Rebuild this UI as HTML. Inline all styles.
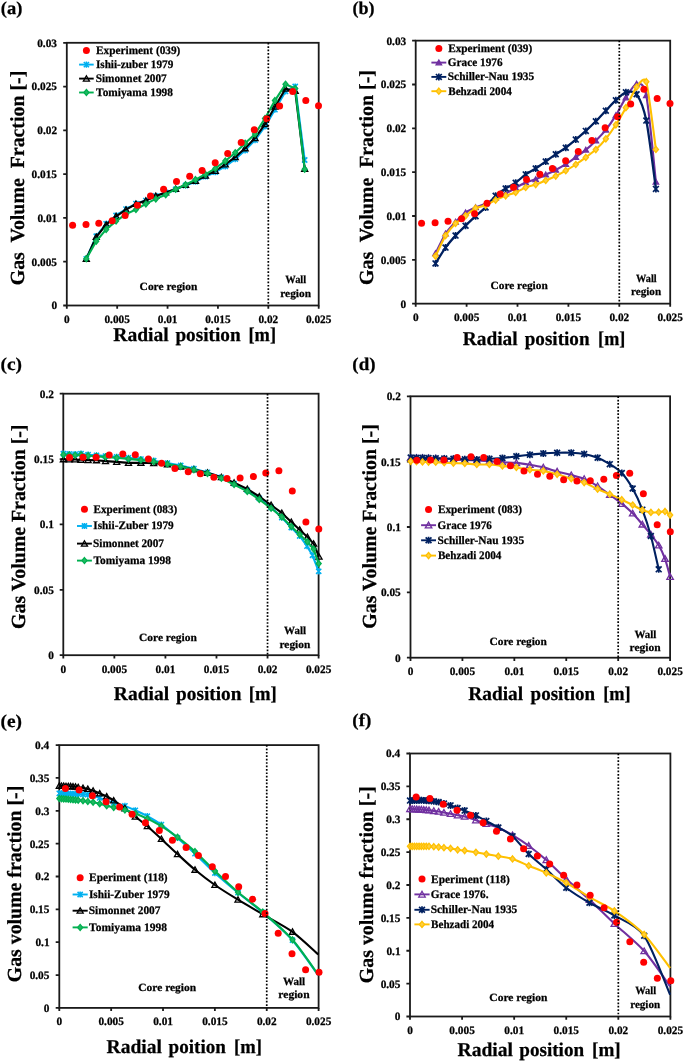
<!DOCTYPE html>
<html><head><meta charset="utf-8"><style>html,body{margin:0;padding:0;background:#fff;overflow:hidden}svg{display:block;will-change:transform}text{white-space:pre;text-rendering:geometricPrecision;stroke:#000;stroke-width:0.25px}</style></head><body>
<svg width="685" height="1062" viewBox="0 0 685 1062" font-family="&quot;Liberation Serif&quot;, serif" font-weight="bold">
<rect width="685" height="1062" fill="#fff"/>
<text x="0.79" y="14.2" font-size="18" textLength="21.53" lengthAdjust="spacingAndGlyphs" fill="#000" >(a)</text>
<text x="352.41" y="14.2" font-size="18" textLength="21.99" lengthAdjust="spacingAndGlyphs" fill="#000" >(b)</text>
<text x="0.55" y="370.29" font-size="18" textLength="21.5" lengthAdjust="spacingAndGlyphs" fill="#000" >(c)</text>
<text x="352.37" y="370.09" font-size="18" textLength="23.17" lengthAdjust="spacingAndGlyphs" fill="#000" >(d)</text>
<text x="0.55" y="726.89" font-size="18" textLength="21.5" lengthAdjust="spacingAndGlyphs" fill="#000" >(e)</text>
<text x="352.36" y="726.17" font-size="18" textLength="18.97" lengthAdjust="spacingAndGlyphs" fill="#000" >(f)</text>
<rect x="66.8" y="42.8" width="251.9" height="262.7" fill="none" stroke="#1a1a1a" stroke-width="1.8"/>
<path d="M63.2 305.5H66.8M63.2 261.72H66.8M63.2 217.93H66.8M63.2 174.15H66.8M63.2 130.37H66.8M63.2 86.58H66.8M63.2 42.8H66.8M66.8 305.5V308.7M117.18 305.5V308.7M167.56 305.5V308.7M217.94 305.5V308.7M268.32 305.5V308.7M318.7 305.5V308.7" stroke="#1a1a1a" stroke-width="1.8" fill="none"/>
<text x="51.38" y="309.4" font-size="11.3" fill="#000" >0</text>
<text x="31.59" y="265.62" font-size="11.3" fill="#000" >0.005</text>
<text x="37.41" y="221.83" font-size="11.3" fill="#000" >0.01</text>
<text x="31.59" y="178.05" font-size="11.3" fill="#000" >0.015</text>
<text x="37.31" y="134.27" font-size="11.3" fill="#000" >0.02</text>
<text x="31.59" y="90.48" font-size="11.3" fill="#000" >0.025</text>
<text x="37.21" y="46.7" font-size="11.3" fill="#000" >0.03</text>
<text x="63.97" y="323.1" font-size="11.3" fill="#000" >0</text>
<text x="104.46" y="323.1" font-size="11.3" fill="#000" >0.005</text>
<text x="157.75" y="323.1" font-size="11.3" fill="#000" >0.01</text>
<text x="205.22" y="323.1" font-size="11.3" fill="#000" >0.015</text>
<text x="258.46" y="323.1" font-size="11.3" fill="#000" >0.02</text>
<text x="305.98" y="323.1" font-size="11.3" fill="#000" >0.025</text>
<rect x="415.7" y="40.65" width="254.5" height="263" fill="none" stroke="#1a1a1a" stroke-width="1.8"/>
<path d="M412.1 303.65H415.7M412.1 259.82H415.7M412.1 215.98H415.7M412.1 172.15H415.7M412.1 128.32H415.7M412.1 84.48H415.7M412.1 40.65H415.7M415.7 303.65V306.85M466.6 303.65V306.85M517.5 303.65V306.85M568.4 303.65V306.85M619.3 303.65V306.85M670.2 303.65V306.85" stroke="#1a1a1a" stroke-width="1.8" fill="none"/>
<text x="400.58" y="307.55" font-size="11.3" fill="#000" >0</text>
<text x="380.79" y="263.72" font-size="11.3" fill="#000" >0.005</text>
<text x="386.61" y="219.88" font-size="11.3" fill="#000" >0.01</text>
<text x="380.79" y="176.05" font-size="11.3" fill="#000" >0.015</text>
<text x="386.51" y="132.22" font-size="11.3" fill="#000" >0.02</text>
<text x="380.79" y="88.38" font-size="11.3" fill="#000" >0.025</text>
<text x="386.41" y="44.55" font-size="11.3" fill="#000" >0.03</text>
<text x="412.88" y="321.2" font-size="11.3" fill="#000" >0</text>
<text x="453.88" y="321.2" font-size="11.3" fill="#000" >0.005</text>
<text x="507.69" y="321.2" font-size="11.3" fill="#000" >0.01</text>
<text x="555.68" y="321.2" font-size="11.3" fill="#000" >0.015</text>
<text x="609.44" y="321.2" font-size="11.3" fill="#000" >0.02</text>
<text x="657.48" y="321.2" font-size="11.3" fill="#000" >0.025</text>
<rect x="63.3" y="393.7" width="255.3" height="261.5" fill="none" stroke="#1a1a1a" stroke-width="1.8"/>
<path d="M59.7 655.2H63.3M59.7 589.83H63.3M59.7 524.45H63.3M59.7 459.07H63.3M59.7 393.7H63.3M63.3 655.2V658.4M114.36 655.2V658.4M165.42 655.2V658.4M216.48 655.2V658.4M267.54 655.2V658.4M318.6 655.2V658.4" stroke="#1a1a1a" stroke-width="1.8" fill="none"/>
<text x="48.18" y="659.1" font-size="11.3" fill="#000" >0</text>
<text x="34.04" y="593.73" font-size="11.3" fill="#000" >0.05</text>
<text x="39.86" y="528.35" font-size="11.3" fill="#000" >0.1</text>
<text x="34.04" y="462.98" font-size="11.3" fill="#000" >0.15</text>
<text x="39.76" y="397.6" font-size="11.3" fill="#000" >0.2</text>
<text x="60.47" y="672.9" font-size="11.3" fill="#000" >0</text>
<text x="101.64" y="672.9" font-size="11.3" fill="#000" >0.005</text>
<text x="155.61" y="672.9" font-size="11.3" fill="#000" >0.01</text>
<text x="203.76" y="672.9" font-size="11.3" fill="#000" >0.015</text>
<text x="257.68" y="672.9" font-size="11.3" fill="#000" >0.02</text>
<text x="305.88" y="672.9" font-size="11.3" fill="#000" >0.025</text>
<rect x="410.5" y="396.3" width="259.6" height="261.4" fill="none" stroke="#1a1a1a" stroke-width="1.8"/>
<path d="M406.9 657.7H410.5M406.9 592.35H410.5M406.9 527H410.5M406.9 461.65H410.5M406.9 396.3H410.5M410.5 657.7V660.9M462.42 657.7V660.9M514.34 657.7V660.9M566.26 657.7V660.9M618.18 657.7V660.9M670.1 657.7V660.9" stroke="#1a1a1a" stroke-width="1.8" fill="none"/>
<text x="395.08" y="661.6" font-size="11.3" fill="#000" >0</text>
<text x="380.94" y="596.25" font-size="11.3" fill="#000" >0.05</text>
<text x="386.76" y="530.9" font-size="11.3" fill="#000" >0.1</text>
<text x="380.94" y="465.55" font-size="11.3" fill="#000" >0.15</text>
<text x="386.66" y="400.2" font-size="11.3" fill="#000" >0.2</text>
<text x="407.68" y="674.7" font-size="11.3" fill="#000" >0</text>
<text x="449.7" y="674.7" font-size="11.3" fill="#000" >0.005</text>
<text x="504.53" y="674.7" font-size="11.3" fill="#000" >0.01</text>
<text x="553.54" y="674.7" font-size="11.3" fill="#000" >0.015</text>
<text x="608.32" y="674.7" font-size="11.3" fill="#000" >0.02</text>
<text x="657.38" y="674.7" font-size="11.3" fill="#000" >0.025</text>
<rect x="59.3" y="745.1" width="259.3" height="262.8" fill="none" stroke="#1a1a1a" stroke-width="1.8"/>
<path d="M55.7 1007.9H59.3M55.7 975.05H59.3M55.7 942.2H59.3M55.7 909.35H59.3M55.7 876.5H59.3M55.7 843.65H59.3M55.7 810.8H59.3M55.7 777.95H59.3M55.7 745.1H59.3M59.3 1007.9V1011.1M111.16 1007.9V1011.1M163.02 1007.9V1011.1M214.88 1007.9V1011.1M266.74 1007.9V1011.1M318.6 1007.9V1011.1" stroke="#1a1a1a" stroke-width="1.8" fill="none"/>
<text x="43.78" y="1011.8" font-size="11.3" fill="#000" >0</text>
<text x="29.64" y="978.95" font-size="11.3" fill="#000" >0.05</text>
<text x="35.46" y="946.1" font-size="11.3" fill="#000" >0.1</text>
<text x="29.64" y="913.25" font-size="11.3" fill="#000" >0.15</text>
<text x="35.36" y="880.4" font-size="11.3" fill="#000" >0.2</text>
<text x="29.64" y="847.55" font-size="11.3" fill="#000" >0.25</text>
<text x="35.26" y="814.7" font-size="11.3" fill="#000" >0.3</text>
<text x="29.64" y="781.85" font-size="11.3" fill="#000" >0.35</text>
<text x="35.09" y="749" font-size="11.3" fill="#000" >0.4</text>
<text x="56.47" y="1025" font-size="11.3" fill="#000" >0</text>
<text x="98.44" y="1025" font-size="11.3" fill="#000" >0.005</text>
<text x="153.21" y="1025" font-size="11.3" fill="#000" >0.01</text>
<text x="202.16" y="1025" font-size="11.3" fill="#000" >0.015</text>
<text x="256.88" y="1025" font-size="11.3" fill="#000" >0.02</text>
<text x="305.88" y="1025" font-size="11.3" fill="#000" >0.025</text>
<rect x="410" y="753.5" width="260.4" height="263" fill="none" stroke="#1a1a1a" stroke-width="1.8"/>
<path d="M406.4 1016.5H410M406.4 983.62H410M406.4 950.75H410M406.4 917.88H410M406.4 885H410M406.4 852.12H410M406.4 819.25H410M406.4 786.38H410M406.4 753.5H410M410 1016.5V1019.7M462.08 1016.5V1019.7M514.16 1016.5V1019.7M566.24 1016.5V1019.7M618.32 1016.5V1019.7M670.4 1016.5V1019.7" stroke="#1a1a1a" stroke-width="1.8" fill="none"/>
<text x="394.78" y="1020.4" font-size="11.3" fill="#000" >0</text>
<text x="380.64" y="987.53" font-size="11.3" fill="#000" >0.05</text>
<text x="386.46" y="954.65" font-size="11.3" fill="#000" >0.1</text>
<text x="380.64" y="921.78" font-size="11.3" fill="#000" >0.15</text>
<text x="386.36" y="888.9" font-size="11.3" fill="#000" >0.2</text>
<text x="380.64" y="856.03" font-size="11.3" fill="#000" >0.25</text>
<text x="386.26" y="823.15" font-size="11.3" fill="#000" >0.3</text>
<text x="380.64" y="790.28" font-size="11.3" fill="#000" >0.35</text>
<text x="386.09" y="757.4" font-size="11.3" fill="#000" >0.4</text>
<text x="407.18" y="1034.1" font-size="11.3" fill="#000" >0</text>
<text x="449.36" y="1034.1" font-size="11.3" fill="#000" >0.005</text>
<text x="504.35" y="1034.1" font-size="11.3" fill="#000" >0.01</text>
<text x="553.52" y="1034.1" font-size="11.3" fill="#000" >0.015</text>
<text x="608.46" y="1034.1" font-size="11.3" fill="#000" >0.02</text>
<text x="657.68" y="1034.1" font-size="11.3" fill="#000" >0.025</text>
<text x="113.32" y="341.4" font-size="19.5" textLength="55.36" lengthAdjust="spacingAndGlyphs" fill="#000" >Radial</text>
<text x="175.4" y="341.4" font-size="19.5" textLength="65.24" lengthAdjust="spacingAndGlyphs" fill="#000" >position</text>
<text x="248.49" y="341.4" font-size="19.5" textLength="27.52" lengthAdjust="spacingAndGlyphs" fill="#000" >[m]</text>
<text x="462.72" y="344.9" font-size="19.5" textLength="54.86" lengthAdjust="spacingAndGlyphs" fill="#000" >Radial</text>
<text x="524.7" y="344.9" font-size="19.5" textLength="64.84" lengthAdjust="spacingAndGlyphs" fill="#000" >position</text>
<text x="598.11" y="344.9" font-size="19.5" textLength="27.18" lengthAdjust="spacingAndGlyphs" fill="#000" >[m]</text>
<text x="113.82" y="700" font-size="19.5" textLength="55.26" lengthAdjust="spacingAndGlyphs" fill="#000" >Radial</text>
<text x="176.1" y="700" font-size="19.5" textLength="65.34" lengthAdjust="spacingAndGlyphs" fill="#000" >position</text>
<text x="248.87" y="700" font-size="19.5" textLength="27.96" lengthAdjust="spacingAndGlyphs" fill="#000" >[m]</text>
<text x="468.22" y="699.6" font-size="19.5" textLength="54.96" lengthAdjust="spacingAndGlyphs" fill="#000" >Radial</text>
<text x="530.6" y="699.6" font-size="19.5" textLength="64.43" lengthAdjust="spacingAndGlyphs" fill="#000" >position</text>
<text x="603.19" y="699.6" font-size="19.5" textLength="27.52" lengthAdjust="spacingAndGlyphs" fill="#000" >[m]</text>
<text x="106.62" y="1053.4" font-size="19.5" textLength="55.26" lengthAdjust="spacingAndGlyphs" fill="#000" >Radial</text>
<text x="168.6" y="1053.4" font-size="19.5" textLength="57.23" lengthAdjust="spacingAndGlyphs" fill="#000" >poition</text>
<text x="233.98" y="1053.4" font-size="19.5" textLength="27.85" lengthAdjust="spacingAndGlyphs" fill="#000" >[m]</text>
<text x="457.52" y="1055.6" font-size="19.5" textLength="55.47" lengthAdjust="spacingAndGlyphs" fill="#000" >Radial</text>
<text x="519.3" y="1055.6" font-size="19.5" textLength="64.84" lengthAdjust="spacingAndGlyphs" fill="#000" >position</text>
<text x="592.04" y="1055.6" font-size="19.5" textLength="28.63" lengthAdjust="spacingAndGlyphs" fill="#000" >[m]</text>
<text transform="translate(24.45,285.27) rotate(-90)" x="0" y="0" font-size="20.0" textLength="214.54" lengthAdjust="spacingAndGlyphs">Gas  Volume  Fraction [-]</text>
<text transform="translate(372.6,284.97) rotate(-90)" x="0" y="0" font-size="20.0" textLength="214.84" lengthAdjust="spacingAndGlyphs">Gas  Volume  Fraction [-]</text>
<text transform="translate(24.6,628.97) rotate(-90)" x="0" y="0" font-size="20.0" textLength="204.43" lengthAdjust="spacingAndGlyphs">Gas Volume Fraction [-]</text>
<text transform="translate(376.25,628.67) rotate(-90)" x="0" y="0" font-size="20.0" textLength="204.43" lengthAdjust="spacingAndGlyphs">Gas Volume Fraction [-]</text>
<text transform="translate(20.8,982.27) rotate(-90)" x="0" y="0" font-size="20.0" textLength="196.53" lengthAdjust="spacingAndGlyphs">Gas volume fraction [-]</text>
<text transform="translate(373.05,983.17) rotate(-90)" x="0" y="0" font-size="20.0" textLength="196.83" lengthAdjust="spacingAndGlyphs">Gas volume fraction [-]</text>
<text x="139.64" y="290.1" font-size="11.0" textLength="57.74" lengthAdjust="spacingAndGlyphs" fill="#000" >Core region</text>
<text x="285.25" y="283" font-size="11.0" textLength="20.92" lengthAdjust="spacingAndGlyphs" fill="#000" >Wall</text>
<text x="280.29" y="296.7" font-size="11.0" textLength="30.68" lengthAdjust="spacingAndGlyphs" fill="#000" >region</text>
<text x="490.55" y="288.5" font-size="11.0" textLength="57.13" lengthAdjust="spacingAndGlyphs" fill="#000" >Core region</text>
<text x="636.06" y="281.6" font-size="11.0" textLength="20.61" lengthAdjust="spacingAndGlyphs" fill="#000" >Wall</text>
<text x="631" y="295.4" font-size="11.0" textLength="30.07" lengthAdjust="spacingAndGlyphs" fill="#000" >region</text>
<text x="139.04" y="640.9" font-size="11.0" textLength="57.74" lengthAdjust="spacingAndGlyphs" fill="#000" >Core region</text>
<text x="284.05" y="633.9" font-size="11.0" textLength="21.93" lengthAdjust="spacingAndGlyphs" fill="#000" >Wall</text>
<text x="279.49" y="647.5" font-size="11.0" textLength="30.79" lengthAdjust="spacingAndGlyphs" fill="#000" >region</text>
<text x="489.64" y="644.9" font-size="11.0" textLength="57.23" lengthAdjust="spacingAndGlyphs" fill="#000" >Core region</text>
<text x="634.45" y="637.7" font-size="11.0" textLength="21.93" lengthAdjust="spacingAndGlyphs" fill="#000" >Wall</text>
<text x="629.59" y="651.4" font-size="11.0" textLength="31.09" lengthAdjust="spacingAndGlyphs" fill="#000" >region</text>
<text x="138.34" y="991.4" font-size="11.0" textLength="57.74" lengthAdjust="spacingAndGlyphs" fill="#000" >Core region</text>
<text x="282.94" y="984.9" font-size="11.0" textLength="22.24" lengthAdjust="spacingAndGlyphs" fill="#000" >Wall</text>
<text x="278.39" y="998.4" font-size="11.0" textLength="31.19" lengthAdjust="spacingAndGlyphs" fill="#000" >region</text>
<text x="489.34" y="1000.7" font-size="11.0" textLength="58.04" lengthAdjust="spacingAndGlyphs" fill="#000" >Core region</text>
<text x="635.15" y="994.4" font-size="11.0" textLength="21.02" lengthAdjust="spacingAndGlyphs" fill="#000" >Wall</text>
<text x="630.2" y="1007.9" font-size="11.0" textLength="29.97" lengthAdjust="spacingAndGlyphs" fill="#000" >region</text>
<path d="M86.3 258.8L96.23 236.2L106.15 223.8L116.08 215.5L126.01 209.1L135.94 203.6L145.86 200.6L155.79 196L165.72 192.5L175.64 189.3L185.57 185.5L195.5 181.7L205.42 176.5L215.35 172.2L225.28 166.4L235.2 159.1L245.13 150.3L255.06 140.1L264.99 126.4L274.91 109.6L285.5 91.4L295.2 86.5L304.69 160" stroke="#00B0F0" stroke-width="2.1" fill="none" stroke-linejoin="round"/>
<path d="M83.7 256.2L88.9 261.4M83.7 261.4L88.9 256.2M86.3 255.68L86.3 261.92" stroke="#00B0F0" stroke-width="1.5" fill="none"/>
<path d="M93.63 233.6L98.83 238.8M93.63 238.8L98.83 233.6M96.23 233.08L96.23 239.32" stroke="#00B0F0" stroke-width="1.5" fill="none"/>
<path d="M103.55 221.2L108.75 226.4M103.55 226.4L108.75 221.2M106.15 220.68L106.15 226.92" stroke="#00B0F0" stroke-width="1.5" fill="none"/>
<path d="M113.48 212.9L118.68 218.1M113.48 218.1L118.68 212.9M116.08 212.38L116.08 218.62" stroke="#00B0F0" stroke-width="1.5" fill="none"/>
<path d="M123.41 206.5L128.61 211.7M123.41 211.7L128.61 206.5M126.01 205.98L126.01 212.22" stroke="#00B0F0" stroke-width="1.5" fill="none"/>
<path d="M133.34 201L138.53 206.2M133.34 206.2L138.53 201M135.94 200.48L135.94 206.72" stroke="#00B0F0" stroke-width="1.5" fill="none"/>
<path d="M143.26 198L148.46 203.2M143.26 203.2L148.46 198M145.86 197.48L145.86 203.72" stroke="#00B0F0" stroke-width="1.5" fill="none"/>
<path d="M153.19 193.4L158.39 198.6M153.19 198.6L158.39 193.4M155.79 192.88L155.79 199.12" stroke="#00B0F0" stroke-width="1.5" fill="none"/>
<path d="M163.12 189.9L168.32 195.1M163.12 195.1L168.32 189.9M165.72 189.38L165.72 195.62" stroke="#00B0F0" stroke-width="1.5" fill="none"/>
<path d="M173.04 186.7L178.24 191.9M173.04 191.9L178.24 186.7M175.64 186.18L175.64 192.42" stroke="#00B0F0" stroke-width="1.5" fill="none"/>
<path d="M182.97 182.9L188.17 188.1M182.97 188.1L188.17 182.9M185.57 182.38L185.57 188.62" stroke="#00B0F0" stroke-width="1.5" fill="none"/>
<path d="M192.9 179.1L198.1 184.3M192.9 184.3L198.1 179.1M195.5 178.58L195.5 184.82" stroke="#00B0F0" stroke-width="1.5" fill="none"/>
<path d="M202.82 173.9L208.02 179.1M202.82 179.1L208.02 173.9M205.42 173.38L205.42 179.62" stroke="#00B0F0" stroke-width="1.5" fill="none"/>
<path d="M212.75 169.6L217.95 174.8M212.75 174.8L217.95 169.6M215.35 169.08L215.35 175.32" stroke="#00B0F0" stroke-width="1.5" fill="none"/>
<path d="M222.68 163.8L227.88 169M222.68 169L227.88 163.8M225.28 163.28L225.28 169.52" stroke="#00B0F0" stroke-width="1.5" fill="none"/>
<path d="M232.6 156.5L237.8 161.7M232.6 161.7L237.8 156.5M235.2 155.98L235.2 162.22" stroke="#00B0F0" stroke-width="1.5" fill="none"/>
<path d="M242.53 147.7L247.73 152.9M242.53 152.9L247.73 147.7M245.13 147.18L245.13 153.42" stroke="#00B0F0" stroke-width="1.5" fill="none"/>
<path d="M252.46 137.5L257.66 142.7M252.46 142.7L257.66 137.5M255.06 136.98L255.06 143.22" stroke="#00B0F0" stroke-width="1.5" fill="none"/>
<path d="M262.39 123.8L267.59 129M262.39 129L267.59 123.8M264.99 123.28L264.99 129.52" stroke="#00B0F0" stroke-width="1.5" fill="none"/>
<path d="M272.31 107L277.51 112.2M272.31 112.2L277.51 107M274.91 106.48L274.91 112.72" stroke="#00B0F0" stroke-width="1.5" fill="none"/>
<path d="M282.9 88.8L288.1 94M282.9 94L288.1 88.8M285.5 88.28L285.5 94.52" stroke="#00B0F0" stroke-width="1.5" fill="none"/>
<path d="M292.6 83.9L297.8 89.1M292.6 89.1L297.8 83.9M295.2 83.38L295.2 89.62" stroke="#00B0F0" stroke-width="1.5" fill="none"/>
<path d="M302.09 157.4L307.29 162.6M302.09 162.6L307.29 157.4M304.69 156.88L304.69 163.12" stroke="#00B0F0" stroke-width="1.5" fill="none"/>
<path d="M86.3 258.8L96.23 237L106.15 224.6L116.08 216.3L126.01 209.7L135.94 204L145.86 200.6L155.79 196L165.72 192.5L175.64 189L185.57 185L195.5 181L205.42 175.6L215.35 171L225.28 164.4L235.2 157.1L245.13 148.3L255.06 138.1L264.99 124.2L274.91 106.7L285.5 88.7L295.2 91L304.69 168.8" stroke="#000" stroke-width="2.1" fill="none" stroke-linejoin="round"/>
<path d="M86.3 255.9L89.34 261.26L83.25 261.26Z" stroke="#000" stroke-width="1.3" fill="none" stroke-linejoin="miter"/>
<path d="M96.23 234.1L99.27 239.47L93.18 239.47Z" stroke="#000" stroke-width="1.3" fill="none" stroke-linejoin="miter"/>
<path d="M106.15 221.7L109.2 227.06L103.11 227.06Z" stroke="#000" stroke-width="1.3" fill="none" stroke-linejoin="miter"/>
<path d="M116.08 213.4L119.13 218.77L113.04 218.77Z" stroke="#000" stroke-width="1.3" fill="none" stroke-linejoin="miter"/>
<path d="M126.01 206.8L129.05 212.16L122.96 212.16Z" stroke="#000" stroke-width="1.3" fill="none" stroke-linejoin="miter"/>
<path d="M135.94 201.1L138.98 206.47L132.89 206.47Z" stroke="#000" stroke-width="1.3" fill="none" stroke-linejoin="miter"/>
<path d="M145.86 197.7L148.91 203.06L142.82 203.06Z" stroke="#000" stroke-width="1.3" fill="none" stroke-linejoin="miter"/>
<path d="M155.79 193.1L158.83 198.47L152.74 198.47Z" stroke="#000" stroke-width="1.3" fill="none" stroke-linejoin="miter"/>
<path d="M165.72 189.6L168.76 194.97L162.67 194.97Z" stroke="#000" stroke-width="1.3" fill="none" stroke-linejoin="miter"/>
<path d="M175.64 186.1L178.69 191.47L172.6 191.47Z" stroke="#000" stroke-width="1.3" fill="none" stroke-linejoin="miter"/>
<path d="M185.57 182.1L188.61 187.47L182.53 187.47Z" stroke="#000" stroke-width="1.3" fill="none" stroke-linejoin="miter"/>
<path d="M195.5 178.1L198.54 183.47L192.45 183.47Z" stroke="#000" stroke-width="1.3" fill="none" stroke-linejoin="miter"/>
<path d="M205.42 172.7L208.47 178.06L202.38 178.06Z" stroke="#000" stroke-width="1.3" fill="none" stroke-linejoin="miter"/>
<path d="M215.35 168.1L218.4 173.47L212.31 173.47Z" stroke="#000" stroke-width="1.3" fill="none" stroke-linejoin="miter"/>
<path d="M225.28 161.5L228.32 166.87L222.23 166.87Z" stroke="#000" stroke-width="1.3" fill="none" stroke-linejoin="miter"/>
<path d="M235.2 154.2L238.25 159.56L232.16 159.56Z" stroke="#000" stroke-width="1.3" fill="none" stroke-linejoin="miter"/>
<path d="M245.13 145.4L248.18 150.77L242.09 150.77Z" stroke="#000" stroke-width="1.3" fill="none" stroke-linejoin="miter"/>
<path d="M255.06 135.2L258.1 140.56L252.01 140.56Z" stroke="#000" stroke-width="1.3" fill="none" stroke-linejoin="miter"/>
<path d="M264.99 121.3L268.03 126.67L261.94 126.67Z" stroke="#000" stroke-width="1.3" fill="none" stroke-linejoin="miter"/>
<path d="M274.91 103.8L277.96 109.17L271.87 109.17Z" stroke="#000" stroke-width="1.3" fill="none" stroke-linejoin="miter"/>
<path d="M285.5 85.8L288.55 91.17L282.45 91.17Z" stroke="#000" stroke-width="1.3" fill="none" stroke-linejoin="miter"/>
<path d="M295.2 88.1L298.25 93.47L292.15 93.47Z" stroke="#000" stroke-width="1.3" fill="none" stroke-linejoin="miter"/>
<path d="M304.69 165.9L307.74 171.27L301.65 171.27Z" stroke="#000" stroke-width="1.3" fill="none" stroke-linejoin="miter"/>
<path d="M86.3 258.8L96.23 241.2L106.15 229.4L116.08 221.1L126.01 214.1L135.94 209.5L145.86 203.9L155.79 198.9L165.72 194.7L175.64 189.2L185.57 184.8L195.5 179.6L205.42 174.3L215.35 168.4L225.28 161L235.2 152.7L245.13 143.2L255.06 134L264.99 118.4L274.91 100.6L285.5 84.2L295.2 88.5L304.69 169.2" stroke="#00B050" stroke-width="2.1" fill="none" stroke-linejoin="round"/>
<path d="M86.3 255.8L88.8 258.8L86.3 261.8L83.8 258.8Z" stroke="#00B050" stroke-width="1.3" fill="#22b863"/>
<path d="M96.23 238.2L98.73 241.2L96.23 244.2L93.73 241.2Z" stroke="#00B050" stroke-width="1.3" fill="#22b863"/>
<path d="M106.15 226.4L108.65 229.4L106.15 232.4L103.65 229.4Z" stroke="#00B050" stroke-width="1.3" fill="#22b863"/>
<path d="M116.08 218.1L118.58 221.1L116.08 224.1L113.58 221.1Z" stroke="#00B050" stroke-width="1.3" fill="#22b863"/>
<path d="M126.01 211.1L128.51 214.1L126.01 217.1L123.51 214.1Z" stroke="#00B050" stroke-width="1.3" fill="#22b863"/>
<path d="M135.94 206.5L138.44 209.5L135.94 212.5L133.44 209.5Z" stroke="#00B050" stroke-width="1.3" fill="#22b863"/>
<path d="M145.86 200.9L148.36 203.9L145.86 206.9L143.36 203.9Z" stroke="#00B050" stroke-width="1.3" fill="#22b863"/>
<path d="M155.79 195.9L158.29 198.9L155.79 201.9L153.29 198.9Z" stroke="#00B050" stroke-width="1.3" fill="#22b863"/>
<path d="M165.72 191.7L168.22 194.7L165.72 197.7L163.22 194.7Z" stroke="#00B050" stroke-width="1.3" fill="#22b863"/>
<path d="M175.64 186.2L178.14 189.2L175.64 192.2L173.14 189.2Z" stroke="#00B050" stroke-width="1.3" fill="#22b863"/>
<path d="M185.57 181.8L188.07 184.8L185.57 187.8L183.07 184.8Z" stroke="#00B050" stroke-width="1.3" fill="#22b863"/>
<path d="M195.5 176.6L198 179.6L195.5 182.6L193 179.6Z" stroke="#00B050" stroke-width="1.3" fill="#22b863"/>
<path d="M205.42 171.3L207.92 174.3L205.42 177.3L202.92 174.3Z" stroke="#00B050" stroke-width="1.3" fill="#22b863"/>
<path d="M215.35 165.4L217.85 168.4L215.35 171.4L212.85 168.4Z" stroke="#00B050" stroke-width="1.3" fill="#22b863"/>
<path d="M225.28 158L227.78 161L225.28 164L222.78 161Z" stroke="#00B050" stroke-width="1.3" fill="#22b863"/>
<path d="M235.2 149.7L237.7 152.7L235.2 155.7L232.7 152.7Z" stroke="#00B050" stroke-width="1.3" fill="#22b863"/>
<path d="M245.13 140.2L247.63 143.2L245.13 146.2L242.63 143.2Z" stroke="#00B050" stroke-width="1.3" fill="#22b863"/>
<path d="M255.06 131L257.56 134L255.06 137L252.56 134Z" stroke="#00B050" stroke-width="1.3" fill="#22b863"/>
<path d="M264.99 115.4L267.49 118.4L264.99 121.4L262.49 118.4Z" stroke="#00B050" stroke-width="1.3" fill="#22b863"/>
<path d="M274.91 97.6L277.41 100.6L274.91 103.6L272.41 100.6Z" stroke="#00B050" stroke-width="1.3" fill="#22b863"/>
<path d="M285.5 81.2L288 84.2L285.5 87.2L283 84.2Z" stroke="#00B050" stroke-width="1.3" fill="#22b863"/>
<path d="M295.2 85.5L297.7 88.5L295.2 91.5L292.7 88.5Z" stroke="#00B050" stroke-width="1.3" fill="#22b863"/>
<path d="M304.69 166.2L307.19 169.2L304.69 172.2L302.19 169.2Z" stroke="#00B050" stroke-width="1.3" fill="#22b863"/>
<circle cx="72.6" cy="225.2" r="3.5" fill="#FF0000"/>
<circle cx="86" cy="224.6" r="3.5" fill="#FF0000"/>
<circle cx="98.8" cy="223.3" r="3.5" fill="#FF0000"/>
<circle cx="112.2" cy="220.7" r="3.5" fill="#FF0000"/>
<circle cx="125.1" cy="215.6" r="3.5" fill="#FF0000"/>
<circle cx="137.4" cy="205.3" r="3.5" fill="#FF0000"/>
<circle cx="150.5" cy="196" r="3.5" fill="#FF0000"/>
<circle cx="163.6" cy="189.2" r="3.5" fill="#FF0000"/>
<circle cx="176.5" cy="181.5" r="3.5" fill="#FF0000"/>
<circle cx="189.7" cy="176.3" r="3.5" fill="#FF0000"/>
<circle cx="202.1" cy="170.4" r="3.5" fill="#FF0000"/>
<circle cx="215.2" cy="162.7" r="3.5" fill="#FF0000"/>
<circle cx="227.7" cy="153.6" r="3.5" fill="#FF0000"/>
<circle cx="241.2" cy="142.5" r="3.5" fill="#FF0000"/>
<circle cx="254.3" cy="129.8" r="3.5" fill="#FF0000"/>
<circle cx="266.7" cy="118.7" r="3.5" fill="#FF0000"/>
<circle cx="279.6" cy="106" r="3.5" fill="#FF0000"/>
<circle cx="292.7" cy="91.4" r="3.5" fill="#FF0000"/>
<circle cx="305.8" cy="100.6" r="3.5" fill="#FF0000"/>
<circle cx="318.5" cy="105.7" r="3.5" fill="#FF0000"/>
<path d="M435.5 253.4C436.9 250.64 442.71 238.1 445.52 233.7C448.33 229.3 452.73 224.95 455.54 222C458.35 219.05 462.75 214.63 465.56 212.6C468.37 210.57 472.77 208.73 475.58 207.5C478.39 206.27 482.79 205.13 485.6 203.8C488.41 202.47 492.81 199.43 495.62 198C498.43 196.57 502.83 195.03 505.64 193.6C508.45 192.17 512.85 189.35 515.66 187.8C518.47 186.25 522.87 183.69 525.68 182.5C528.49 181.31 532.89 180.39 535.7 179.3C538.51 178.21 542.91 176 545.72 174.7C548.53 173.4 552.93 171.47 555.74 170C558.55 168.53 562.95 165.99 565.76 164.2C568.57 162.41 572.97 159.2 575.78 157.2C578.59 155.2 582.99 152.21 585.8 149.9C588.61 147.59 593.01 143.5 595.82 140.7C598.63 137.9 603.03 133.44 605.84 129.9C608.65 126.36 613.05 119.92 615.86 115.4C618.67 110.88 622.98 102 625.88 97.6C628.78 93.2 633.74 84.29 636.6 84C639.46 83.71 643.6 81.79 646.3 95.5C649 109.21 654.56 169.8 655.9 181.9" stroke="#7030A0" stroke-width="2.1" fill="none" stroke-linejoin="round"/>
<path d="M435.5 250.8L438.23 255.61L432.77 255.61Z" stroke="#7030A0" stroke-width="1.3" fill="#7030A0" stroke-linejoin="miter"/>
<path d="M445.52 231.1L448.25 235.91L442.79 235.91Z" stroke="#7030A0" stroke-width="1.3" fill="#7030A0" stroke-linejoin="miter"/>
<path d="M455.54 219.4L458.27 224.21L452.81 224.21Z" stroke="#7030A0" stroke-width="1.3" fill="#7030A0" stroke-linejoin="miter"/>
<path d="M465.56 210L468.29 214.81L462.83 214.81Z" stroke="#7030A0" stroke-width="1.3" fill="#7030A0" stroke-linejoin="miter"/>
<path d="M475.58 204.9L478.31 209.71L472.85 209.71Z" stroke="#7030A0" stroke-width="1.3" fill="#7030A0" stroke-linejoin="miter"/>
<path d="M485.6 201.2L488.33 206.01L482.87 206.01Z" stroke="#7030A0" stroke-width="1.3" fill="#7030A0" stroke-linejoin="miter"/>
<path d="M495.62 195.4L498.35 200.21L492.89 200.21Z" stroke="#7030A0" stroke-width="1.3" fill="#7030A0" stroke-linejoin="miter"/>
<path d="M505.64 191L508.37 195.81L502.91 195.81Z" stroke="#7030A0" stroke-width="1.3" fill="#7030A0" stroke-linejoin="miter"/>
<path d="M515.66 185.2L518.39 190.01L512.93 190.01Z" stroke="#7030A0" stroke-width="1.3" fill="#7030A0" stroke-linejoin="miter"/>
<path d="M525.68 179.9L528.41 184.71L522.95 184.71Z" stroke="#7030A0" stroke-width="1.3" fill="#7030A0" stroke-linejoin="miter"/>
<path d="M535.7 176.7L538.43 181.51L532.97 181.51Z" stroke="#7030A0" stroke-width="1.3" fill="#7030A0" stroke-linejoin="miter"/>
<path d="M545.72 172.1L548.45 176.91L542.99 176.91Z" stroke="#7030A0" stroke-width="1.3" fill="#7030A0" stroke-linejoin="miter"/>
<path d="M555.74 167.4L558.47 172.21L553.01 172.21Z" stroke="#7030A0" stroke-width="1.3" fill="#7030A0" stroke-linejoin="miter"/>
<path d="M565.76 161.6L568.49 166.41L563.03 166.41Z" stroke="#7030A0" stroke-width="1.3" fill="#7030A0" stroke-linejoin="miter"/>
<path d="M575.78 154.6L578.51 159.41L573.05 159.41Z" stroke="#7030A0" stroke-width="1.3" fill="#7030A0" stroke-linejoin="miter"/>
<path d="M585.8 147.3L588.53 152.11L583.07 152.11Z" stroke="#7030A0" stroke-width="1.3" fill="#7030A0" stroke-linejoin="miter"/>
<path d="M595.82 138.1L598.55 142.91L593.09 142.91Z" stroke="#7030A0" stroke-width="1.3" fill="#7030A0" stroke-linejoin="miter"/>
<path d="M605.84 127.3L608.57 132.11L603.11 132.11Z" stroke="#7030A0" stroke-width="1.3" fill="#7030A0" stroke-linejoin="miter"/>
<path d="M615.86 112.8L618.59 117.61L613.13 117.61Z" stroke="#7030A0" stroke-width="1.3" fill="#7030A0" stroke-linejoin="miter"/>
<path d="M625.88 95L628.61 99.81L623.15 99.81Z" stroke="#7030A0" stroke-width="1.3" fill="#7030A0" stroke-linejoin="miter"/>
<path d="M636.6 81.4L639.33 86.21L633.87 86.21Z" stroke="#7030A0" stroke-width="1.3" fill="#7030A0" stroke-linejoin="miter"/>
<path d="M646.3 92.9L649.03 97.71L643.57 97.71Z" stroke="#7030A0" stroke-width="1.3" fill="#7030A0" stroke-linejoin="miter"/>
<path d="M655.9 179.3L658.63 184.11L653.17 184.11Z" stroke="#7030A0" stroke-width="1.3" fill="#7030A0" stroke-linejoin="miter"/>
<path d="M435.5 263.4C436.9 261.19 442.71 251.49 445.52 247.6C448.33 243.71 452.73 238.67 455.54 235.6C458.35 232.53 462.75 228.42 465.56 225.7C468.37 222.98 472.77 218.76 475.58 216.2C478.39 213.64 482.79 210.26 485.6 207.4C488.41 204.54 492.81 198.45 495.62 195.8C498.43 193.15 502.83 190.33 505.64 188.5C508.45 186.67 512.85 184.67 515.66 182.7C518.47 180.73 522.87 176.39 525.68 174.4C528.49 172.41 532.89 170.31 535.7 168.5C538.51 166.69 542.91 163.5 545.72 161.5C548.53 159.5 552.93 156.13 555.74 154.2C558.55 152.27 562.95 149.74 565.76 147.7C568.57 145.66 572.97 141.95 575.78 139.6C578.59 137.25 582.99 133.46 585.8 130.9C588.61 128.34 593.01 124.13 595.82 121.3C598.63 118.47 603.03 113.65 605.84 110.7C608.65 107.75 613.05 102.78 615.86 100.2C618.67 97.62 622.98 93.13 625.88 92.3C628.78 91.47 633.74 90.34 636.6 94.3C639.46 98.26 643.6 107.36 646.3 120.6C649 133.84 654.56 179.34 655.9 188.9" stroke="#002060" stroke-width="2.3" fill="none" stroke-linejoin="round"/>
<path d="M432.6 260.5L438.4 266.3M432.6 266.3L438.4 260.5M435.5 259.92L435.5 266.88" stroke="#002060" stroke-width="1.7" fill="none"/>
<path d="M442.62 244.7L448.42 250.5M442.62 250.5L448.42 244.7M445.52 244.12L445.52 251.08" stroke="#002060" stroke-width="1.7" fill="none"/>
<path d="M452.64 232.7L458.44 238.5M452.64 238.5L458.44 232.7M455.54 232.12L455.54 239.08" stroke="#002060" stroke-width="1.7" fill="none"/>
<path d="M462.66 222.8L468.46 228.6M462.66 228.6L468.46 222.8M465.56 222.22L465.56 229.18" stroke="#002060" stroke-width="1.7" fill="none"/>
<path d="M472.68 213.3L478.48 219.1M472.68 219.1L478.48 213.3M475.58 212.72L475.58 219.68" stroke="#002060" stroke-width="1.7" fill="none"/>
<path d="M482.7 204.5L488.5 210.3M482.7 210.3L488.5 204.5M485.6 203.92L485.6 210.88" stroke="#002060" stroke-width="1.7" fill="none"/>
<path d="M492.72 192.9L498.52 198.7M492.72 198.7L498.52 192.9M495.62 192.32L495.62 199.28" stroke="#002060" stroke-width="1.7" fill="none"/>
<path d="M502.74 185.6L508.54 191.4M502.74 191.4L508.54 185.6M505.64 185.02L505.64 191.98" stroke="#002060" stroke-width="1.7" fill="none"/>
<path d="M512.76 179.8L518.56 185.6M512.76 185.6L518.56 179.8M515.66 179.22L515.66 186.18" stroke="#002060" stroke-width="1.7" fill="none"/>
<path d="M522.78 171.5L528.58 177.3M522.78 177.3L528.58 171.5M525.68 170.92L525.68 177.88" stroke="#002060" stroke-width="1.7" fill="none"/>
<path d="M532.8 165.6L538.6 171.4M532.8 171.4L538.6 165.6M535.7 165.02L535.7 171.98" stroke="#002060" stroke-width="1.7" fill="none"/>
<path d="M542.82 158.6L548.62 164.4M542.82 164.4L548.62 158.6M545.72 158.02L545.72 164.98" stroke="#002060" stroke-width="1.7" fill="none"/>
<path d="M552.84 151.3L558.64 157.1M552.84 157.1L558.64 151.3M555.74 150.72L555.74 157.68" stroke="#002060" stroke-width="1.7" fill="none"/>
<path d="M562.86 144.8L568.66 150.6M562.86 150.6L568.66 144.8M565.76 144.22L565.76 151.18" stroke="#002060" stroke-width="1.7" fill="none"/>
<path d="M572.88 136.7L578.68 142.5M572.88 142.5L578.68 136.7M575.78 136.12L575.78 143.08" stroke="#002060" stroke-width="1.7" fill="none"/>
<path d="M582.9 128L588.7 133.8M582.9 133.8L588.7 128M585.8 127.42L585.8 134.38" stroke="#002060" stroke-width="1.7" fill="none"/>
<path d="M592.92 118.4L598.72 124.2M592.92 124.2L598.72 118.4M595.82 117.82L595.82 124.78" stroke="#002060" stroke-width="1.7" fill="none"/>
<path d="M602.94 107.8L608.74 113.6M602.94 113.6L608.74 107.8M605.84 107.22L605.84 114.18" stroke="#002060" stroke-width="1.7" fill="none"/>
<path d="M612.96 97.3L618.76 103.1M612.96 103.1L618.76 97.3M615.86 96.72L615.86 103.68" stroke="#002060" stroke-width="1.7" fill="none"/>
<path d="M622.98 89.4L628.78 95.2M622.98 95.2L628.78 89.4M625.88 88.82L625.88 95.78" stroke="#002060" stroke-width="1.7" fill="none"/>
<path d="M633.7 91.4L639.5 97.2M633.7 97.2L639.5 91.4M636.6 90.82L636.6 97.78" stroke="#002060" stroke-width="1.7" fill="none"/>
<path d="M643.4 117.7L649.2 123.5M643.4 123.5L649.2 117.7M646.3 117.12L646.3 124.08" stroke="#002060" stroke-width="1.7" fill="none"/>
<path d="M653 186L658.8 191.8M653 191.8L658.8 186M655.9 185.42L655.9 192.38" stroke="#002060" stroke-width="1.7" fill="none"/>
<path d="M435.5 256.1C436.5 254.05 443.52 238.86 445.52 235.6C447.52 232.34 453.54 225.48 455.54 223.5C457.54 221.52 463.56 217.33 465.56 215.8C467.56 214.27 473.58 209.25 475.58 208.2C477.58 207.15 483.6 206.11 485.6 205.3C487.6 204.49 493.62 201.05 495.62 200.1C497.62 199.15 503.64 196.56 505.64 195.8C507.64 195.04 513.66 193.33 515.66 192.5C517.66 191.67 523.68 188.29 525.68 187.5C527.68 186.71 533.7 185.3 535.7 184.6C537.7 183.9 543.72 181.35 545.72 180.5C547.72 179.65 553.74 177.08 555.74 176.1C557.74 175.12 563.76 171.86 565.76 170.7C567.76 169.54 573.78 165.83 575.78 164.5C577.78 163.17 583.8 158.89 585.8 157.4C587.8 155.91 593.82 151.46 595.82 149.6C597.82 147.74 603.84 141.28 605.84 138.8C607.84 136.32 613.86 127.91 615.86 124.8C617.86 121.69 623.81 111.48 625.88 107.7C627.95 103.92 634.56 89.6 636.6 87C638.64 84.4 644.37 75.46 646.3 81.7C648.23 87.94 654.94 142.63 655.9 149.4" stroke="#FFC000" stroke-width="2.1" fill="none" stroke-linejoin="round"/>
<path d="M435.5 253L438.1 256.1L435.5 259.2L432.9 256.1Z" stroke="#FFC000" stroke-width="1.3" fill="#ffcf40"/>
<path d="M445.52 232.5L448.12 235.6L445.52 238.7L442.92 235.6Z" stroke="#FFC000" stroke-width="1.3" fill="#ffcf40"/>
<path d="M455.54 220.4L458.14 223.5L455.54 226.6L452.94 223.5Z" stroke="#FFC000" stroke-width="1.3" fill="#ffcf40"/>
<path d="M465.56 212.7L468.16 215.8L465.56 218.9L462.96 215.8Z" stroke="#FFC000" stroke-width="1.3" fill="#ffcf40"/>
<path d="M475.58 205.1L478.18 208.2L475.58 211.3L472.98 208.2Z" stroke="#FFC000" stroke-width="1.3" fill="#ffcf40"/>
<path d="M485.6 202.2L488.2 205.3L485.6 208.4L483 205.3Z" stroke="#FFC000" stroke-width="1.3" fill="#ffcf40"/>
<path d="M495.62 197L498.22 200.1L495.62 203.2L493.02 200.1Z" stroke="#FFC000" stroke-width="1.3" fill="#ffcf40"/>
<path d="M505.64 192.7L508.24 195.8L505.64 198.9L503.04 195.8Z" stroke="#FFC000" stroke-width="1.3" fill="#ffcf40"/>
<path d="M515.66 189.4L518.26 192.5L515.66 195.6L513.06 192.5Z" stroke="#FFC000" stroke-width="1.3" fill="#ffcf40"/>
<path d="M525.68 184.4L528.28 187.5L525.68 190.6L523.08 187.5Z" stroke="#FFC000" stroke-width="1.3" fill="#ffcf40"/>
<path d="M535.7 181.5L538.3 184.6L535.7 187.7L533.1 184.6Z" stroke="#FFC000" stroke-width="1.3" fill="#ffcf40"/>
<path d="M545.72 177.4L548.32 180.5L545.72 183.6L543.12 180.5Z" stroke="#FFC000" stroke-width="1.3" fill="#ffcf40"/>
<path d="M555.74 173L558.34 176.1L555.74 179.2L553.14 176.1Z" stroke="#FFC000" stroke-width="1.3" fill="#ffcf40"/>
<path d="M565.76 167.6L568.36 170.7L565.76 173.8L563.16 170.7Z" stroke="#FFC000" stroke-width="1.3" fill="#ffcf40"/>
<path d="M575.78 161.4L578.38 164.5L575.78 167.6L573.18 164.5Z" stroke="#FFC000" stroke-width="1.3" fill="#ffcf40"/>
<path d="M585.8 154.3L588.4 157.4L585.8 160.5L583.2 157.4Z" stroke="#FFC000" stroke-width="1.3" fill="#ffcf40"/>
<path d="M595.82 146.5L598.42 149.6L595.82 152.7L593.22 149.6Z" stroke="#FFC000" stroke-width="1.3" fill="#ffcf40"/>
<path d="M605.84 135.7L608.44 138.8L605.84 141.9L603.24 138.8Z" stroke="#FFC000" stroke-width="1.3" fill="#ffcf40"/>
<path d="M615.86 121.7L618.46 124.8L615.86 127.9L613.26 124.8Z" stroke="#FFC000" stroke-width="1.3" fill="#ffcf40"/>
<path d="M625.88 104.6L628.48 107.7L625.88 110.8L623.28 107.7Z" stroke="#FFC000" stroke-width="1.3" fill="#ffcf40"/>
<path d="M636.6 83.9L639.2 87L636.6 90.1L634 87Z" stroke="#FFC000" stroke-width="1.3" fill="#ffcf40"/>
<path d="M646.3 78.6L648.9 81.7L646.3 84.8L643.7 81.7Z" stroke="#FFC000" stroke-width="1.3" fill="#ffcf40"/>
<path d="M655.9 146.3L658.5 149.4L655.9 152.5L653.3 149.4Z" stroke="#FFC000" stroke-width="1.3" fill="#ffcf40"/>
<circle cx="421.56" cy="223.26" r="3.5" fill="#FF0000"/>
<circle cx="435.1" cy="222.66" r="3.5" fill="#FF0000"/>
<circle cx="448.03" cy="221.36" r="3.5" fill="#FF0000"/>
<circle cx="461.57" cy="218.75" r="3.5" fill="#FF0000"/>
<circle cx="474.6" cy="213.65" r="3.5" fill="#FF0000"/>
<circle cx="487.03" cy="203.34" r="3.5" fill="#FF0000"/>
<circle cx="500.26" cy="194.02" r="3.5" fill="#FF0000"/>
<circle cx="513.5" cy="187.22" r="3.5" fill="#FF0000"/>
<circle cx="526.53" cy="179.51" r="3.5" fill="#FF0000"/>
<circle cx="539.87" cy="174.3" r="3.5" fill="#FF0000"/>
<circle cx="552.4" cy="168.4" r="3.5" fill="#FF0000"/>
<circle cx="565.63" cy="160.69" r="3.5" fill="#FF0000"/>
<circle cx="578.26" cy="151.58" r="3.5" fill="#FF0000"/>
<circle cx="591.9" cy="140.46" r="3.5" fill="#FF0000"/>
<circle cx="605.14" cy="127.75" r="3.5" fill="#FF0000"/>
<circle cx="617.66" cy="116.64" r="3.5" fill="#FF0000"/>
<circle cx="630.7" cy="103.92" r="3.5" fill="#FF0000"/>
<circle cx="643.93" cy="89.31" r="3.5" fill="#FF0000"/>
<circle cx="657.17" cy="98.52" r="3.5" fill="#FF0000"/>
<circle cx="670" cy="103.62" r="3.5" fill="#FF0000"/>
<path d="M63.4 453.7L69.2 454L75.1 454.2L81 453.7L88.1 454.7L96.5 455.3L105.5 456.1L116.7 456.8L128.5 457.9L140.9 459.1L153.7 460.7L167.4 463.1L180.7 465.5L193.9 468.7L207.5 472.4L221.4 477.3L234.1 483.6L247.3 490.4L259.3 498.4L271.1 507.3L281.8 517.5L291.3 527.5L299.7 536L307 546.1L312.5 555.3L318.7 571.3" stroke="#00B0F0" stroke-width="2.1" fill="none" stroke-linejoin="round"/>
<path d="M60.8 451.1L66 456.3M60.8 456.3L66 451.1M63.4 450.58L63.4 456.82" stroke="#00B0F0" stroke-width="1.5" fill="none"/>
<path d="M66.6 451.4L71.8 456.6M66.6 456.6L71.8 451.4M69.2 450.88L69.2 457.12" stroke="#00B0F0" stroke-width="1.5" fill="none"/>
<path d="M72.5 451.6L77.7 456.8M72.5 456.8L77.7 451.6M75.1 451.08L75.1 457.32" stroke="#00B0F0" stroke-width="1.5" fill="none"/>
<path d="M78.4 451.1L83.6 456.3M78.4 456.3L83.6 451.1M81 450.58L81 456.82" stroke="#00B0F0" stroke-width="1.5" fill="none"/>
<path d="M85.5 452.1L90.7 457.3M85.5 457.3L90.7 452.1M88.1 451.58L88.1 457.82" stroke="#00B0F0" stroke-width="1.5" fill="none"/>
<path d="M93.9 452.7L99.1 457.9M93.9 457.9L99.1 452.7M96.5 452.18L96.5 458.42" stroke="#00B0F0" stroke-width="1.5" fill="none"/>
<path d="M102.9 453.5L108.1 458.7M102.9 458.7L108.1 453.5M105.5 452.98L105.5 459.22" stroke="#00B0F0" stroke-width="1.5" fill="none"/>
<path d="M114.1 454.2L119.3 459.4M114.1 459.4L119.3 454.2M116.7 453.68L116.7 459.92" stroke="#00B0F0" stroke-width="1.5" fill="none"/>
<path d="M125.9 455.3L131.1 460.5M125.9 460.5L131.1 455.3M128.5 454.78L128.5 461.02" stroke="#00B0F0" stroke-width="1.5" fill="none"/>
<path d="M138.3 456.5L143.5 461.7M138.3 461.7L143.5 456.5M140.9 455.98L140.9 462.22" stroke="#00B0F0" stroke-width="1.5" fill="none"/>
<path d="M151.1 458.1L156.3 463.3M151.1 463.3L156.3 458.1M153.7 457.58L153.7 463.82" stroke="#00B0F0" stroke-width="1.5" fill="none"/>
<path d="M164.8 460.5L170 465.7M164.8 465.7L170 460.5M167.4 459.98L167.4 466.22" stroke="#00B0F0" stroke-width="1.5" fill="none"/>
<path d="M178.1 462.9L183.3 468.1M178.1 468.1L183.3 462.9M180.7 462.38L180.7 468.62" stroke="#00B0F0" stroke-width="1.5" fill="none"/>
<path d="M191.3 466.1L196.5 471.3M191.3 471.3L196.5 466.1M193.9 465.58L193.9 471.82" stroke="#00B0F0" stroke-width="1.5" fill="none"/>
<path d="M204.9 469.8L210.1 475M204.9 475L210.1 469.8M207.5 469.28L207.5 475.52" stroke="#00B0F0" stroke-width="1.5" fill="none"/>
<path d="M218.8 474.7L224 479.9M218.8 479.9L224 474.7M221.4 474.18L221.4 480.42" stroke="#00B0F0" stroke-width="1.5" fill="none"/>
<path d="M231.5 481L236.7 486.2M231.5 486.2L236.7 481M234.1 480.48L234.1 486.72" stroke="#00B0F0" stroke-width="1.5" fill="none"/>
<path d="M244.7 487.8L249.9 493M244.7 493L249.9 487.8M247.3 487.28L247.3 493.52" stroke="#00B0F0" stroke-width="1.5" fill="none"/>
<path d="M256.7 495.8L261.9 501M256.7 501L261.9 495.8M259.3 495.28L259.3 501.52" stroke="#00B0F0" stroke-width="1.5" fill="none"/>
<path d="M268.5 504.7L273.7 509.9M268.5 509.9L273.7 504.7M271.1 504.18L271.1 510.42" stroke="#00B0F0" stroke-width="1.5" fill="none"/>
<path d="M279.2 514.9L284.4 520.1M279.2 520.1L284.4 514.9M281.8 514.38L281.8 520.62" stroke="#00B0F0" stroke-width="1.5" fill="none"/>
<path d="M288.7 524.9L293.9 530.1M288.7 530.1L293.9 524.9M291.3 524.38L291.3 530.62" stroke="#00B0F0" stroke-width="1.5" fill="none"/>
<path d="M297.1 533.4L302.3 538.6M297.1 538.6L302.3 533.4M299.7 532.88L299.7 539.12" stroke="#00B0F0" stroke-width="1.5" fill="none"/>
<path d="M304.4 543.5L309.6 548.7M304.4 548.7L309.6 543.5M307 542.98L307 549.22" stroke="#00B0F0" stroke-width="1.5" fill="none"/>
<path d="M309.9 552.7L315.1 557.9M309.9 557.9L315.1 552.7M312.5 552.18L312.5 558.42" stroke="#00B0F0" stroke-width="1.5" fill="none"/>
<path d="M316.1 568.7L321.3 573.9M316.1 573.9L321.3 568.7M318.7 568.18L318.7 574.42" stroke="#00B0F0" stroke-width="1.5" fill="none"/>
<path d="M63.4 459.3L69.2 459.4L75.1 459.5L81 459.8L88.1 460.1L96.5 460.3L105.5 461.1L116.7 461.9L128.5 462.9L140.9 462.8L153.7 463.2L167.4 464.5L180.7 466.6L193.9 469.5L207.5 472.8L221.4 477.2L234.1 482.6L247.3 489L259.3 496.5L271.1 505L281.8 512.9L291.3 522L299.7 529.7L307.4 537L313.6 543.6L319 556.7" stroke="#000" stroke-width="2.1" fill="none" stroke-linejoin="round"/>
<path d="M63.4 456.4L66.44 461.76L60.35 461.76Z" stroke="#000" stroke-width="1.3" fill="none" stroke-linejoin="miter"/>
<path d="M69.2 456.5L72.25 461.86L66.16 461.86Z" stroke="#000" stroke-width="1.3" fill="none" stroke-linejoin="miter"/>
<path d="M75.1 456.6L78.14 461.96L72.05 461.96Z" stroke="#000" stroke-width="1.3" fill="none" stroke-linejoin="miter"/>
<path d="M81 456.9L84.05 462.26L77.95 462.26Z" stroke="#000" stroke-width="1.3" fill="none" stroke-linejoin="miter"/>
<path d="M88.1 457.2L91.14 462.56L85.05 462.56Z" stroke="#000" stroke-width="1.3" fill="none" stroke-linejoin="miter"/>
<path d="M96.5 457.4L99.55 462.76L93.45 462.76Z" stroke="#000" stroke-width="1.3" fill="none" stroke-linejoin="miter"/>
<path d="M105.5 458.2L108.55 463.56L102.45 463.56Z" stroke="#000" stroke-width="1.3" fill="none" stroke-linejoin="miter"/>
<path d="M116.7 459L119.75 464.36L113.66 464.36Z" stroke="#000" stroke-width="1.3" fill="none" stroke-linejoin="miter"/>
<path d="M128.5 460L131.54 465.36L125.45 465.36Z" stroke="#000" stroke-width="1.3" fill="none" stroke-linejoin="miter"/>
<path d="M140.9 459.9L143.94 465.26L137.86 465.26Z" stroke="#000" stroke-width="1.3" fill="none" stroke-linejoin="miter"/>
<path d="M153.7 460.3L156.74 465.66L150.66 465.66Z" stroke="#000" stroke-width="1.3" fill="none" stroke-linejoin="miter"/>
<path d="M167.4 461.6L170.44 466.96L164.36 466.96Z" stroke="#000" stroke-width="1.3" fill="none" stroke-linejoin="miter"/>
<path d="M180.7 463.7L183.74 469.06L177.66 469.06Z" stroke="#000" stroke-width="1.3" fill="none" stroke-linejoin="miter"/>
<path d="M193.9 466.6L196.94 471.96L190.86 471.96Z" stroke="#000" stroke-width="1.3" fill="none" stroke-linejoin="miter"/>
<path d="M207.5 469.9L210.54 475.26L204.46 475.26Z" stroke="#000" stroke-width="1.3" fill="none" stroke-linejoin="miter"/>
<path d="M221.4 474.3L224.44 479.66L218.36 479.66Z" stroke="#000" stroke-width="1.3" fill="none" stroke-linejoin="miter"/>
<path d="M234.1 479.7L237.14 485.06L231.06 485.06Z" stroke="#000" stroke-width="1.3" fill="none" stroke-linejoin="miter"/>
<path d="M247.3 486.1L250.34 491.46L244.26 491.46Z" stroke="#000" stroke-width="1.3" fill="none" stroke-linejoin="miter"/>
<path d="M259.3 493.6L262.35 498.96L256.25 498.96Z" stroke="#000" stroke-width="1.3" fill="none" stroke-linejoin="miter"/>
<path d="M271.1 502.1L274.15 507.46L268.06 507.46Z" stroke="#000" stroke-width="1.3" fill="none" stroke-linejoin="miter"/>
<path d="M281.8 510L284.85 515.37L278.75 515.37Z" stroke="#000" stroke-width="1.3" fill="none" stroke-linejoin="miter"/>
<path d="M291.3 519.1L294.35 524.47L288.25 524.47Z" stroke="#000" stroke-width="1.3" fill="none" stroke-linejoin="miter"/>
<path d="M299.7 526.8L302.75 532.17L296.65 532.17Z" stroke="#000" stroke-width="1.3" fill="none" stroke-linejoin="miter"/>
<path d="M307.4 534.1L310.44 539.47L304.35 539.47Z" stroke="#000" stroke-width="1.3" fill="none" stroke-linejoin="miter"/>
<path d="M313.6 540.7L316.65 546.07L310.56 546.07Z" stroke="#000" stroke-width="1.3" fill="none" stroke-linejoin="miter"/>
<path d="M319 553.8L322.05 559.17L315.95 559.17Z" stroke="#000" stroke-width="1.3" fill="none" stroke-linejoin="miter"/>
<path d="M63.4 454.7L69.2 455L75.1 455.2L81 454.7L88.1 455.7L96.5 456.3L105.5 457.1L116.7 457.8L128.5 458.9L140.9 460.1L153.7 461.7L167.4 464.1L180.7 466.5L193.9 469.7L207.5 473.4L221.4 478.3L234.1 484.6L247.3 491.4L259.3 499.4L271.1 508.3L281.8 516.9L291.3 526.4L299.7 534.5L307.4 541.8L313.6 549.1L318.7 563.6" stroke="#00B050" stroke-width="2.1" fill="none" stroke-linejoin="round"/>
<path d="M63.4 451.7L65.9 454.7L63.4 457.7L60.9 454.7Z" stroke="#00B050" stroke-width="1.3" fill="#22b863"/>
<path d="M69.2 452L71.7 455L69.2 458L66.7 455Z" stroke="#00B050" stroke-width="1.3" fill="#22b863"/>
<path d="M75.1 452.2L77.6 455.2L75.1 458.2L72.6 455.2Z" stroke="#00B050" stroke-width="1.3" fill="#22b863"/>
<path d="M81 451.7L83.5 454.7L81 457.7L78.5 454.7Z" stroke="#00B050" stroke-width="1.3" fill="#22b863"/>
<path d="M88.1 452.7L90.6 455.7L88.1 458.7L85.6 455.7Z" stroke="#00B050" stroke-width="1.3" fill="#22b863"/>
<path d="M96.5 453.3L99 456.3L96.5 459.3L94 456.3Z" stroke="#00B050" stroke-width="1.3" fill="#22b863"/>
<path d="M105.5 454.1L108 457.1L105.5 460.1L103 457.1Z" stroke="#00B050" stroke-width="1.3" fill="#22b863"/>
<path d="M116.7 454.8L119.2 457.8L116.7 460.8L114.2 457.8Z" stroke="#00B050" stroke-width="1.3" fill="#22b863"/>
<path d="M128.5 455.9L131 458.9L128.5 461.9L126 458.9Z" stroke="#00B050" stroke-width="1.3" fill="#22b863"/>
<path d="M140.9 457.1L143.4 460.1L140.9 463.1L138.4 460.1Z" stroke="#00B050" stroke-width="1.3" fill="#22b863"/>
<path d="M153.7 458.7L156.2 461.7L153.7 464.7L151.2 461.7Z" stroke="#00B050" stroke-width="1.3" fill="#22b863"/>
<path d="M167.4 461.1L169.9 464.1L167.4 467.1L164.9 464.1Z" stroke="#00B050" stroke-width="1.3" fill="#22b863"/>
<path d="M180.7 463.5L183.2 466.5L180.7 469.5L178.2 466.5Z" stroke="#00B050" stroke-width="1.3" fill="#22b863"/>
<path d="M193.9 466.7L196.4 469.7L193.9 472.7L191.4 469.7Z" stroke="#00B050" stroke-width="1.3" fill="#22b863"/>
<path d="M207.5 470.4L210 473.4L207.5 476.4L205 473.4Z" stroke="#00B050" stroke-width="1.3" fill="#22b863"/>
<path d="M221.4 475.3L223.9 478.3L221.4 481.3L218.9 478.3Z" stroke="#00B050" stroke-width="1.3" fill="#22b863"/>
<path d="M234.1 481.6L236.6 484.6L234.1 487.6L231.6 484.6Z" stroke="#00B050" stroke-width="1.3" fill="#22b863"/>
<path d="M247.3 488.4L249.8 491.4L247.3 494.4L244.8 491.4Z" stroke="#00B050" stroke-width="1.3" fill="#22b863"/>
<path d="M259.3 496.4L261.8 499.4L259.3 502.4L256.8 499.4Z" stroke="#00B050" stroke-width="1.3" fill="#22b863"/>
<path d="M271.1 505.3L273.6 508.3L271.1 511.3L268.6 508.3Z" stroke="#00B050" stroke-width="1.3" fill="#22b863"/>
<path d="M281.8 513.9L284.3 516.9L281.8 519.9L279.3 516.9Z" stroke="#00B050" stroke-width="1.3" fill="#22b863"/>
<path d="M291.3 523.4L293.8 526.4L291.3 529.4L288.8 526.4Z" stroke="#00B050" stroke-width="1.3" fill="#22b863"/>
<path d="M299.7 531.5L302.2 534.5L299.7 537.5L297.2 534.5Z" stroke="#00B050" stroke-width="1.3" fill="#22b863"/>
<path d="M307.4 538.8L309.9 541.8L307.4 544.8L304.9 541.8Z" stroke="#00B050" stroke-width="1.3" fill="#22b863"/>
<path d="M313.6 546.1L316.1 549.1L313.6 552.1L311.1 549.1Z" stroke="#00B050" stroke-width="1.3" fill="#22b863"/>
<path d="M318.7 560.6L321.2 563.6L318.7 566.6L316.2 563.6Z" stroke="#00B050" stroke-width="1.3" fill="#22b863"/>
<circle cx="69.5" cy="457.6" r="3.5" fill="#FF0000"/>
<circle cx="83" cy="457.3" r="3.5" fill="#FF0000"/>
<circle cx="96.1" cy="457.3" r="3.5" fill="#FF0000"/>
<circle cx="109.2" cy="455" r="3.5" fill="#FF0000"/>
<circle cx="122.8" cy="454.1" r="3.5" fill="#FF0000"/>
<circle cx="135.3" cy="454.8" r="3.5" fill="#FF0000"/>
<circle cx="148.4" cy="459" r="3.5" fill="#FF0000"/>
<circle cx="161.6" cy="463.2" r="3.5" fill="#FF0000"/>
<circle cx="174.9" cy="468.4" r="3.5" fill="#FF0000"/>
<circle cx="188.2" cy="471.8" r="3.5" fill="#FF0000"/>
<circle cx="200.3" cy="473.7" r="3.5" fill="#FF0000"/>
<circle cx="213.9" cy="477.3" r="3.5" fill="#FF0000"/>
<circle cx="227" cy="478.5" r="3.5" fill="#FF0000"/>
<circle cx="240.1" cy="478.1" r="3.5" fill="#FF0000"/>
<circle cx="253.4" cy="476.6" r="3.5" fill="#FF0000"/>
<circle cx="265.8" cy="472.9" r="3.5" fill="#FF0000"/>
<circle cx="278.9" cy="470.8" r="3.5" fill="#FF0000"/>
<circle cx="292.3" cy="491.1" r="3.5" fill="#FF0000"/>
<circle cx="305.9" cy="522.1" r="3.5" fill="#FF0000"/>
<circle cx="318.8" cy="529.1" r="3.5" fill="#FF0000"/>
<path d="M410.7 457.8C411.51 457.81 414.85 457.87 416.5 457.89C418.15 457.92 420.82 457.95 422.5 457.99C424.18 458.04 426.65 458.14 428.5 458.21C430.35 458.28 433.51 458.4 435.72 458.49C437.92 458.57 441.78 458.71 444.26 458.82C446.74 458.92 450.54 459.1 453.41 459.25C456.29 459.41 461.53 459.73 464.8 459.9C468.07 460.08 473.35 460.3 476.8 460.48C480.24 460.65 485.82 460.93 489.41 461.18C492.99 461.42 498.65 461.98 502.42 462.22C506.2 462.46 512.51 462.52 516.35 462.88C520.2 463.23 526.1 464.14 529.88 464.77C533.65 465.4 539.48 466.44 543.3 467.38C547.11 468.32 553.21 470.44 557.13 471.52C561.04 472.59 567.48 474.03 571.26 475.07C575.05 476.1 580.49 477.34 584.18 478.89C587.86 480.43 594.01 483.87 597.6 486.1C601.19 488.33 606.41 492.37 609.8 494.83C613.19 497.29 618.6 501.09 621.8 503.67C625 506.26 629.8 510.42 632.68 513.32C635.56 516.22 639.79 521.42 642.34 524.39C644.89 527.36 648.59 531.59 650.88 534.52C653.17 537.45 656.73 541.94 658.71 545.34C660.69 548.74 663.42 554.39 665.02 558.78C666.61 563.17 669.39 574.19 670.1 576.7" stroke="#7030A0" stroke-width="2.1" fill="none" stroke-linejoin="round"/>
<path d="M410.7 454.7L413.95 460.44L407.44 460.44Z" stroke="#7030A0" stroke-width="1.3" fill="none" stroke-linejoin="miter"/>
<path d="M416.5 454.79L419.75 460.53L413.24 460.53Z" stroke="#7030A0" stroke-width="1.3" fill="none" stroke-linejoin="miter"/>
<path d="M422.5 454.89L425.75 460.63L419.24 460.63Z" stroke="#7030A0" stroke-width="1.3" fill="none" stroke-linejoin="miter"/>
<path d="M428.5 455.11L431.75 460.85L425.24 460.85Z" stroke="#7030A0" stroke-width="1.3" fill="none" stroke-linejoin="miter"/>
<path d="M435.72 455.39L438.97 461.12L432.46 461.12Z" stroke="#7030A0" stroke-width="1.3" fill="none" stroke-linejoin="miter"/>
<path d="M444.26 455.72L447.51 461.45L441 461.45Z" stroke="#7030A0" stroke-width="1.3" fill="none" stroke-linejoin="miter"/>
<path d="M453.41 456.15L456.67 461.89L450.16 461.89Z" stroke="#7030A0" stroke-width="1.3" fill="none" stroke-linejoin="miter"/>
<path d="M464.8 456.8L468.05 462.54L461.54 462.54Z" stroke="#7030A0" stroke-width="1.3" fill="none" stroke-linejoin="miter"/>
<path d="M476.8 457.38L480.05 463.11L473.54 463.11Z" stroke="#7030A0" stroke-width="1.3" fill="none" stroke-linejoin="miter"/>
<path d="M489.41 458.08L492.66 463.81L486.15 463.81Z" stroke="#7030A0" stroke-width="1.3" fill="none" stroke-linejoin="miter"/>
<path d="M502.42 459.12L505.68 464.85L499.17 464.85Z" stroke="#7030A0" stroke-width="1.3" fill="none" stroke-linejoin="miter"/>
<path d="M516.35 459.78L519.61 465.51L513.1 465.51Z" stroke="#7030A0" stroke-width="1.3" fill="none" stroke-linejoin="miter"/>
<path d="M529.88 461.67L533.13 467.41L526.62 467.41Z" stroke="#7030A0" stroke-width="1.3" fill="none" stroke-linejoin="miter"/>
<path d="M543.3 464.28L546.55 470.02L540.04 470.02Z" stroke="#7030A0" stroke-width="1.3" fill="none" stroke-linejoin="miter"/>
<path d="M557.13 468.42L560.38 474.15L553.87 474.15Z" stroke="#7030A0" stroke-width="1.3" fill="none" stroke-linejoin="miter"/>
<path d="M571.26 471.97L574.52 477.7L568.01 477.7Z" stroke="#7030A0" stroke-width="1.3" fill="none" stroke-linejoin="miter"/>
<path d="M584.18 475.79L587.43 481.52L580.92 481.52Z" stroke="#7030A0" stroke-width="1.3" fill="none" stroke-linejoin="miter"/>
<path d="M597.6 483L600.85 488.73L594.34 488.73Z" stroke="#7030A0" stroke-width="1.3" fill="none" stroke-linejoin="miter"/>
<path d="M609.8 491.73L613.06 497.46L606.55 497.46Z" stroke="#7030A0" stroke-width="1.3" fill="none" stroke-linejoin="miter"/>
<path d="M621.8 500.57L625.05 506.31L618.54 506.31Z" stroke="#7030A0" stroke-width="1.3" fill="none" stroke-linejoin="miter"/>
<path d="M632.68 510.22L635.94 515.96L629.43 515.96Z" stroke="#7030A0" stroke-width="1.3" fill="none" stroke-linejoin="miter"/>
<path d="M642.34 521.29L645.6 527.02L639.09 527.02Z" stroke="#7030A0" stroke-width="1.3" fill="none" stroke-linejoin="miter"/>
<path d="M650.88 531.42L654.14 537.16L647.63 537.16Z" stroke="#7030A0" stroke-width="1.3" fill="none" stroke-linejoin="miter"/>
<path d="M658.71 542.24L661.97 547.97L655.46 547.97Z" stroke="#7030A0" stroke-width="1.3" fill="none" stroke-linejoin="miter"/>
<path d="M665.02 555.68L668.27 561.41L661.76 561.41Z" stroke="#7030A0" stroke-width="1.3" fill="none" stroke-linejoin="miter"/>
<path d="M670.1 573.6L673.36 579.34L666.85 579.34Z" stroke="#7030A0" stroke-width="1.3" fill="none" stroke-linejoin="miter"/>
<path d="M410.7 457.6C411.51 457.61 414.85 457.67 416.5 457.69C418.15 457.72 420.82 457.75 422.5 457.79C424.18 457.83 426.65 457.91 428.5 457.97C430.35 458.03 433.51 458.12 435.72 458.19C437.92 458.26 441.78 458.37 444.26 458.45C446.74 458.54 450.54 458.68 453.41 458.8C456.29 458.92 461.53 459.19 464.8 459.3C468.07 459.41 473.35 459.67 476.8 459.59C480.24 459.51 485.82 458.94 489.41 458.73C492.99 458.51 498.65 458.38 502.42 458.05C506.2 457.71 512.51 456.8 516.35 456.34C520.2 455.88 526.1 455.17 529.88 454.76C533.65 454.35 539.48 453.7 543.3 453.41C547.11 453.12 553.21 452.81 557.13 452.71C561.04 452.61 567.48 452.52 571.26 452.7C575.05 452.88 580.49 453.31 584.18 454.02C587.86 454.74 594.01 456.38 597.6 457.8C601.19 459.22 606.41 462.05 609.8 464.17C613.19 466.3 618.6 469.56 621.8 472.98C625 476.39 629.8 483.43 632.68 488.57C635.56 493.71 639.79 503.04 642.34 509.67C644.89 516.31 648.59 527.59 650.88 535.95C653.17 544.31 657.62 564.69 658.71 569.37" stroke="#002060" stroke-width="2.1" fill="none" stroke-linejoin="round"/>
<path d="M407.8 454.7L413.6 460.5M407.8 460.5L413.6 454.7M410.7 454.12L410.7 461.08" stroke="#002060" stroke-width="1.7" fill="none"/>
<path d="M413.6 454.79L419.4 460.59M413.6 460.59L419.4 454.79M416.5 454.21L416.5 461.17" stroke="#002060" stroke-width="1.7" fill="none"/>
<path d="M419.6 454.89L425.4 460.69M419.6 460.69L425.4 454.89M422.5 454.31L422.5 461.27" stroke="#002060" stroke-width="1.7" fill="none"/>
<path d="M425.6 455.07L431.4 460.87M425.6 460.87L431.4 455.07M428.5 454.49L428.5 461.45" stroke="#002060" stroke-width="1.7" fill="none"/>
<path d="M432.82 455.29L438.62 461.09M432.82 461.09L438.62 455.29M435.72 454.71L435.72 461.67" stroke="#002060" stroke-width="1.7" fill="none"/>
<path d="M441.36 455.55L447.16 461.35M441.36 461.35L447.16 455.55M444.26 454.97L444.26 461.93" stroke="#002060" stroke-width="1.7" fill="none"/>
<path d="M450.51 455.9L456.31 461.7M450.51 461.7L456.31 455.9M453.41 455.32L453.41 462.28" stroke="#002060" stroke-width="1.7" fill="none"/>
<path d="M461.9 456.4L467.7 462.2M461.9 462.2L467.7 456.4M464.8 455.82L464.8 462.78" stroke="#002060" stroke-width="1.7" fill="none"/>
<path d="M473.9 456.69L479.7 462.49M473.9 462.49L479.7 456.69M476.8 456.11L476.8 463.07" stroke="#002060" stroke-width="1.7" fill="none"/>
<path d="M486.51 455.83L492.31 461.63M486.51 461.63L492.31 455.83M489.41 455.25L489.41 462.21" stroke="#002060" stroke-width="1.7" fill="none"/>
<path d="M499.52 455.15L505.32 460.95M499.52 460.95L505.32 455.15M502.42 454.57L502.42 461.53" stroke="#002060" stroke-width="1.7" fill="none"/>
<path d="M513.45 453.44L519.25 459.24M513.45 459.24L519.25 453.44M516.35 452.86L516.35 459.82" stroke="#002060" stroke-width="1.7" fill="none"/>
<path d="M526.98 451.86L532.78 457.66M526.98 457.66L532.78 451.86M529.88 451.28L529.88 458.24" stroke="#002060" stroke-width="1.7" fill="none"/>
<path d="M540.4 450.51L546.2 456.31M540.4 456.31L546.2 450.51M543.3 449.93L543.3 456.89" stroke="#002060" stroke-width="1.7" fill="none"/>
<path d="M554.23 449.81L560.03 455.61M554.23 455.61L560.03 449.81M557.13 449.23L557.13 456.19" stroke="#002060" stroke-width="1.7" fill="none"/>
<path d="M568.36 449.8L574.16 455.6M568.36 455.6L574.16 449.8M571.26 449.22L571.26 456.18" stroke="#002060" stroke-width="1.7" fill="none"/>
<path d="M581.28 451.12L587.08 456.92M581.28 456.92L587.08 451.12M584.18 450.54L584.18 457.5" stroke="#002060" stroke-width="1.7" fill="none"/>
<path d="M594.7 454.9L600.5 460.7M594.7 460.7L600.5 454.9M597.6 454.32L597.6 461.28" stroke="#002060" stroke-width="1.7" fill="none"/>
<path d="M606.9 461.27L612.7 467.07M606.9 467.07L612.7 461.27M609.8 460.69L609.8 467.65" stroke="#002060" stroke-width="1.7" fill="none"/>
<path d="M618.9 470.08L624.7 475.88M618.9 475.88L624.7 470.08M621.8 469.5L621.8 476.46" stroke="#002060" stroke-width="1.7" fill="none"/>
<path d="M629.78 485.67L635.58 491.47M629.78 491.47L635.58 485.67M632.68 485.09L632.68 492.05" stroke="#002060" stroke-width="1.7" fill="none"/>
<path d="M639.44 506.77L645.24 512.57M639.44 512.57L645.24 506.77M642.34 506.19L642.34 513.15" stroke="#002060" stroke-width="1.7" fill="none"/>
<path d="M647.98 533.05L653.78 538.85M647.98 538.85L653.78 533.05M650.88 532.47L650.88 539.43" stroke="#002060" stroke-width="1.7" fill="none"/>
<path d="M655.81 566.47L661.61 572.27M655.81 572.27L661.61 566.47M658.71 565.89L658.71 572.85" stroke="#002060" stroke-width="1.7" fill="none"/>
<path d="M410.7 461.3C411.51 461.34 414.85 461.51 416.5 461.6C418.15 461.68 420.82 461.84 422.5 461.9C424.18 461.96 426.65 461.99 428.5 462.03C430.35 462.07 433.51 462.1 435.72 462.19C437.92 462.28 441.78 462.58 444.26 462.7C446.74 462.83 450.54 463.01 453.41 463.11C456.29 463.2 461.53 463.19 464.8 463.39C468.07 463.58 473.35 464.33 476.8 464.49C480.24 464.65 485.82 464.3 489.41 464.5C492.99 464.7 498.65 465.5 502.42 465.91C506.2 466.33 512.51 466.91 516.35 467.44C520.2 467.98 526.1 469.25 529.88 469.73C533.65 470.22 539.48 470.25 543.3 470.89C547.11 471.54 553.21 473.24 557.13 474.33C561.04 475.43 567.48 477.55 571.26 478.71C575.05 479.87 580.49 481.14 584.18 482.59C587.86 484.05 594.01 487.49 597.6 489.11C601.19 490.73 606.41 492.68 609.8 494.16C613.19 495.64 618.6 498.18 621.8 499.7C625 501.22 629.8 503.56 632.68 505.01C635.56 506.45 639.79 508.99 642.34 510.02C644.89 511.05 648.59 512.08 650.88 512.38C653.17 512.69 656.73 512.3 658.71 512.17C660.69 512.04 663.42 511.05 665.02 511.45C666.61 511.86 669.39 514.58 670.1 515.09" stroke="#FFC000" stroke-width="2.1" fill="none" stroke-linejoin="round"/>
<path d="M410.7 458.2L413.3 461.3L410.7 464.4L408.1 461.3Z" stroke="#FFC000" stroke-width="1.3" fill="#ffcf40"/>
<path d="M416.5 458.5L419.1 461.6L416.5 464.7L413.9 461.6Z" stroke="#FFC000" stroke-width="1.3" fill="#ffcf40"/>
<path d="M422.5 458.8L425.1 461.9L422.5 465L419.9 461.9Z" stroke="#FFC000" stroke-width="1.3" fill="#ffcf40"/>
<path d="M428.5 458.93L431.1 462.03L428.5 465.13L425.9 462.03Z" stroke="#FFC000" stroke-width="1.3" fill="#ffcf40"/>
<path d="M435.72 459.09L438.32 462.19L435.72 465.29L433.12 462.19Z" stroke="#FFC000" stroke-width="1.3" fill="#ffcf40"/>
<path d="M444.26 459.6L446.86 462.7L444.26 465.8L441.66 462.7Z" stroke="#FFC000" stroke-width="1.3" fill="#ffcf40"/>
<path d="M453.41 460.01L456.01 463.11L453.41 466.21L450.81 463.11Z" stroke="#FFC000" stroke-width="1.3" fill="#ffcf40"/>
<path d="M464.8 460.29L467.4 463.39L464.8 466.49L462.2 463.39Z" stroke="#FFC000" stroke-width="1.3" fill="#ffcf40"/>
<path d="M476.8 461.39L479.4 464.49L476.8 467.59L474.2 464.49Z" stroke="#FFC000" stroke-width="1.3" fill="#ffcf40"/>
<path d="M489.41 461.4L492.01 464.5L489.41 467.6L486.81 464.5Z" stroke="#FFC000" stroke-width="1.3" fill="#ffcf40"/>
<path d="M502.42 462.81L505.02 465.91L502.42 469.01L499.82 465.91Z" stroke="#FFC000" stroke-width="1.3" fill="#ffcf40"/>
<path d="M516.35 464.34L518.95 467.44L516.35 470.54L513.75 467.44Z" stroke="#FFC000" stroke-width="1.3" fill="#ffcf40"/>
<path d="M529.88 466.63L532.48 469.73L529.88 472.83L527.28 469.73Z" stroke="#FFC000" stroke-width="1.3" fill="#ffcf40"/>
<path d="M543.3 467.79L545.9 470.89L543.3 473.99L540.7 470.89Z" stroke="#FFC000" stroke-width="1.3" fill="#ffcf40"/>
<path d="M557.13 471.23L559.73 474.33L557.13 477.43L554.53 474.33Z" stroke="#FFC000" stroke-width="1.3" fill="#ffcf40"/>
<path d="M571.26 475.61L573.86 478.71L571.26 481.81L568.66 478.71Z" stroke="#FFC000" stroke-width="1.3" fill="#ffcf40"/>
<path d="M584.18 479.49L586.78 482.59L584.18 485.69L581.58 482.59Z" stroke="#FFC000" stroke-width="1.3" fill="#ffcf40"/>
<path d="M597.6 486.01L600.2 489.11L597.6 492.21L595 489.11Z" stroke="#FFC000" stroke-width="1.3" fill="#ffcf40"/>
<path d="M609.8 491.06L612.4 494.16L609.8 497.26L607.2 494.16Z" stroke="#FFC000" stroke-width="1.3" fill="#ffcf40"/>
<path d="M621.8 496.6L624.4 499.7L621.8 502.8L619.2 499.7Z" stroke="#FFC000" stroke-width="1.3" fill="#ffcf40"/>
<path d="M632.68 501.91L635.28 505.01L632.68 508.11L630.08 505.01Z" stroke="#FFC000" stroke-width="1.3" fill="#ffcf40"/>
<path d="M642.34 506.92L644.94 510.02L642.34 513.12L639.74 510.02Z" stroke="#FFC000" stroke-width="1.3" fill="#ffcf40"/>
<path d="M650.88 509.28L653.48 512.38L650.88 515.48L648.28 512.38Z" stroke="#FFC000" stroke-width="1.3" fill="#ffcf40"/>
<path d="M658.71 509.07L661.31 512.17L658.71 515.27L656.11 512.17Z" stroke="#FFC000" stroke-width="1.3" fill="#ffcf40"/>
<path d="M665.02 508.35L667.62 511.45L665.02 514.55L662.42 511.45Z" stroke="#FFC000" stroke-width="1.3" fill="#ffcf40"/>
<path d="M670.1 511.99L672.7 515.09L670.1 518.19L667.5 515.09Z" stroke="#FFC000" stroke-width="1.3" fill="#ffcf40"/>
<circle cx="416.8" cy="460.18" r="3.5" fill="#FF0000"/>
<circle cx="430.53" cy="459.88" r="3.5" fill="#FF0000"/>
<circle cx="443.85" cy="459.88" r="3.5" fill="#FF0000"/>
<circle cx="457.17" cy="457.58" r="3.5" fill="#FF0000"/>
<circle cx="471" cy="456.68" r="3.5" fill="#FF0000"/>
<circle cx="483.71" cy="457.38" r="3.5" fill="#FF0000"/>
<circle cx="497.03" cy="461.58" r="3.5" fill="#FF0000"/>
<circle cx="510.46" cy="465.77" r="3.5" fill="#FF0000"/>
<circle cx="523.98" cy="470.97" r="3.5" fill="#FF0000"/>
<circle cx="537.5" cy="474.37" r="3.5" fill="#FF0000"/>
<circle cx="549.81" cy="476.27" r="3.5" fill="#FF0000"/>
<circle cx="563.64" cy="479.87" r="3.5" fill="#FF0000"/>
<circle cx="576.96" cy="481.07" r="3.5" fill="#FF0000"/>
<circle cx="590.28" cy="480.67" r="3.5" fill="#FF0000"/>
<circle cx="603.8" cy="479.17" r="3.5" fill="#FF0000"/>
<circle cx="616.41" cy="475.47" r="3.5" fill="#FF0000"/>
<circle cx="629.73" cy="473.37" r="3.5" fill="#FF0000"/>
<circle cx="643.36" cy="493.66" r="3.5" fill="#FF0000"/>
<circle cx="657.19" cy="524.65" r="3.5" fill="#FF0000"/>
<circle cx="670.3" cy="531.65" r="3.5" fill="#FF0000"/>
<path d="M59.3 793.4C59.61 793.41 60.88 793.46 61.5 793.48C62.12 793.51 63.07 793.54 63.7 793.56C64.33 793.59 65.36 793.63 66 793.65C66.64 793.67 67.66 793.71 68.3 793.74C68.94 793.76 69.94 793.8 70.6 793.82C71.26 793.85 72.31 793.89 73 793.92C73.69 793.95 74.77 793.99 75.5 794.02C76.23 794.05 77.15 794.08 78.2 794.13C79.25 794.17 81.66 794.29 83 794.35C84.34 794.41 86.39 794.4 87.8 794.59C89.21 794.78 91.43 795.27 93.1 795.73C94.77 796.2 97.8 797.26 99.7 797.93C101.6 798.61 104.74 799.86 106.7 800.56C108.66 801.26 111.15 802.17 113.7 802.92C116.25 803.66 121.88 804.85 124.9 805.89C127.92 806.92 132.16 808.86 135.3 810.3C138.44 811.74 143.65 814.19 147.3 816.2C150.95 818.21 157.17 821.6 161.4 824.66C165.63 827.71 172.8 833.93 177.5 837.99C182.2 842.05 189.76 848.75 195 853.65C200.24 858.55 208.88 867.55 214.9 873.01C220.92 878.48 231.29 887.19 238 892.72C244.71 898.25 255.17 905.85 262.8 912.5C270.43 919.15 284.73 931.43 292.5 940.22C300.27 949.01 314.69 970.39 318.3 975.3" stroke="#00B0F0" stroke-width="2.1" fill="none" stroke-linejoin="round"/>
<path d="M56.7 790.8L61.9 796M56.7 796L61.9 790.8M59.3 790.28L59.3 796.52" stroke="#00B0F0" stroke-width="1.5" fill="none"/>
<path d="M58.9 790.88L64.1 796.08M58.9 796.08L64.1 790.88M61.5 790.36L61.5 796.6" stroke="#00B0F0" stroke-width="1.5" fill="none"/>
<path d="M61.1 790.96L66.3 796.16M61.1 796.16L66.3 790.96M63.7 790.44L63.7 796.68" stroke="#00B0F0" stroke-width="1.5" fill="none"/>
<path d="M63.4 791.05L68.6 796.25M63.4 796.25L68.6 791.05M66 790.53L66 796.77" stroke="#00B0F0" stroke-width="1.5" fill="none"/>
<path d="M65.7 791.14L70.9 796.34M65.7 796.34L70.9 791.14M68.3 790.62L68.3 796.86" stroke="#00B0F0" stroke-width="1.5" fill="none"/>
<path d="M68 791.22L73.2 796.42M68 796.42L73.2 791.22M70.6 790.7L70.6 796.94" stroke="#00B0F0" stroke-width="1.5" fill="none"/>
<path d="M70.4 791.32L75.6 796.52M70.4 796.52L75.6 791.32M73 790.8L73 797.04" stroke="#00B0F0" stroke-width="1.5" fill="none"/>
<path d="M72.9 791.42L78.1 796.62M72.9 796.62L78.1 791.42M75.5 790.9L75.5 797.14" stroke="#00B0F0" stroke-width="1.5" fill="none"/>
<path d="M75.6 791.53L80.8 796.73M75.6 796.73L80.8 791.53M78.2 791.01L78.2 797.25" stroke="#00B0F0" stroke-width="1.5" fill="none"/>
<path d="M80.4 791.75L85.6 796.95M80.4 796.95L85.6 791.75M83 791.23L83 797.47" stroke="#00B0F0" stroke-width="1.5" fill="none"/>
<path d="M85.2 791.99L90.4 797.19M85.2 797.19L90.4 791.99M87.8 791.47L87.8 797.71" stroke="#00B0F0" stroke-width="1.5" fill="none"/>
<path d="M90.5 793.13L95.7 798.33M90.5 798.33L95.7 793.13M93.1 792.61L93.1 798.85" stroke="#00B0F0" stroke-width="1.5" fill="none"/>
<path d="M97.1 795.33L102.3 800.53M97.1 800.53L102.3 795.33M99.7 794.81L99.7 801.05" stroke="#00B0F0" stroke-width="1.5" fill="none"/>
<path d="M104.1 797.96L109.3 803.16M104.1 803.16L109.3 797.96M106.7 797.44L106.7 803.68" stroke="#00B0F0" stroke-width="1.5" fill="none"/>
<path d="M111.1 800.32L116.3 805.52M111.1 805.52L116.3 800.32M113.7 799.8L113.7 806.04" stroke="#00B0F0" stroke-width="1.5" fill="none"/>
<path d="M122.3 803.29L127.5 808.49M122.3 808.49L127.5 803.29M124.9 802.77L124.9 809.01" stroke="#00B0F0" stroke-width="1.5" fill="none"/>
<path d="M132.7 807.7L137.9 812.9M132.7 812.9L137.9 807.7M135.3 807.18L135.3 813.42" stroke="#00B0F0" stroke-width="1.5" fill="none"/>
<path d="M144.7 813.6L149.9 818.8M144.7 818.8L149.9 813.6M147.3 813.08L147.3 819.32" stroke="#00B0F0" stroke-width="1.5" fill="none"/>
<path d="M158.8 822.06L164 827.26M158.8 827.26L164 822.06M161.4 821.54L161.4 827.78" stroke="#00B0F0" stroke-width="1.5" fill="none"/>
<path d="M174.9 835.39L180.1 840.59M174.9 840.59L180.1 835.39M177.5 834.87L177.5 841.11" stroke="#00B0F0" stroke-width="1.5" fill="none"/>
<path d="M192.4 851.05L197.6 856.25M192.4 856.25L197.6 851.05M195 850.53L195 856.77" stroke="#00B0F0" stroke-width="1.5" fill="none"/>
<path d="M212.3 870.41L217.5 875.62M212.3 875.62L217.5 870.41M214.9 869.89L214.9 876.13" stroke="#00B0F0" stroke-width="1.5" fill="none"/>
<path d="M235.4 890.12L240.6 895.32M235.4 895.32L240.6 890.12M238 889.6L238 895.84" stroke="#00B0F0" stroke-width="1.5" fill="none"/>
<path d="M260.2 909.9L265.4 915.1M260.2 915.1L265.4 909.9M262.8 909.38L262.8 915.62" stroke="#00B0F0" stroke-width="1.5" fill="none"/>
<path d="M289.9 937.62L295.1 942.82M289.9 942.82L295.1 937.62M292.5 937.1L292.5 943.34" stroke="#00B0F0" stroke-width="1.5" fill="none"/>
<path d="M59.3 785.8C59.61 785.81 60.88 785.87 61.5 785.9C62.12 785.93 63.07 785.97 63.7 786C64.33 786.03 65.36 786.07 66 786.1C66.64 786.13 67.66 786.17 68.3 786.2C68.94 786.23 69.94 786.27 70.6 786.3C71.26 786.33 72.31 786.36 73 786.4C73.69 786.44 74.77 786.49 75.5 786.6C76.23 786.71 77.15 787 78.2 787.2C79.25 787.4 81.66 787.75 83 788C84.34 788.25 86.39 788.61 87.8 789C89.21 789.39 91.43 790.18 93.1 790.8C94.77 791.42 97.8 792.6 99.7 793.4C101.6 794.2 104.74 795.52 106.7 796.5C108.66 797.48 111.15 798.75 113.7 800.4C116.25 802.05 121.88 806.03 124.9 808.3C127.92 810.57 132.16 814.09 135.3 816.6C138.44 819.11 143.65 823.08 147.3 826.2C150.95 829.32 157.17 834.99 161.4 838.9C165.63 842.81 172.8 849.77 177.5 854.1C182.2 858.43 189.76 865.47 195 869.8C200.24 874.13 208.88 880.81 214.9 885C220.92 889.19 231.29 895.6 238 899.7C244.71 903.8 255.17 909.81 262.8 914.3C270.43 918.79 284.73 926.17 292.5 931.8C300.27 937.43 314.69 951.32 318.3 954.5" stroke="#000" stroke-width="2.1" fill="none" stroke-linejoin="round"/>
<path d="M59.3 782.9L62.34 788.26L56.25 788.26Z" stroke="#000" stroke-width="1.3" fill="none" stroke-linejoin="miter"/>
<path d="M61.5 783L64.55 788.37L58.45 788.37Z" stroke="#000" stroke-width="1.3" fill="none" stroke-linejoin="miter"/>
<path d="M63.7 783.1L66.75 788.47L60.66 788.47Z" stroke="#000" stroke-width="1.3" fill="none" stroke-linejoin="miter"/>
<path d="M66 783.2L69.05 788.57L62.95 788.57Z" stroke="#000" stroke-width="1.3" fill="none" stroke-linejoin="miter"/>
<path d="M68.3 783.3L71.34 788.67L65.25 788.67Z" stroke="#000" stroke-width="1.3" fill="none" stroke-linejoin="miter"/>
<path d="M70.6 783.4L73.64 788.76L67.55 788.76Z" stroke="#000" stroke-width="1.3" fill="none" stroke-linejoin="miter"/>
<path d="M73 783.5L76.05 788.87L69.95 788.87Z" stroke="#000" stroke-width="1.3" fill="none" stroke-linejoin="miter"/>
<path d="M75.5 783.7L78.55 789.07L72.45 789.07Z" stroke="#000" stroke-width="1.3" fill="none" stroke-linejoin="miter"/>
<path d="M78.2 784.3L81.25 789.67L75.16 789.67Z" stroke="#000" stroke-width="1.3" fill="none" stroke-linejoin="miter"/>
<path d="M83 785.1L86.05 790.47L79.95 790.47Z" stroke="#000" stroke-width="1.3" fill="none" stroke-linejoin="miter"/>
<path d="M87.8 786.1L90.84 791.47L84.75 791.47Z" stroke="#000" stroke-width="1.3" fill="none" stroke-linejoin="miter"/>
<path d="M93.1 787.9L96.14 793.26L90.05 793.26Z" stroke="#000" stroke-width="1.3" fill="none" stroke-linejoin="miter"/>
<path d="M99.7 790.5L102.75 795.87L96.66 795.87Z" stroke="#000" stroke-width="1.3" fill="none" stroke-linejoin="miter"/>
<path d="M106.7 793.6L109.75 798.97L103.66 798.97Z" stroke="#000" stroke-width="1.3" fill="none" stroke-linejoin="miter"/>
<path d="M113.7 797.5L116.75 802.87L110.66 802.87Z" stroke="#000" stroke-width="1.3" fill="none" stroke-linejoin="miter"/>
<path d="M124.9 805.4L127.95 810.76L121.86 810.76Z" stroke="#000" stroke-width="1.3" fill="none" stroke-linejoin="miter"/>
<path d="M135.3 813.7L138.34 819.07L132.26 819.07Z" stroke="#000" stroke-width="1.3" fill="none" stroke-linejoin="miter"/>
<path d="M147.3 823.3L150.34 828.67L144.26 828.67Z" stroke="#000" stroke-width="1.3" fill="none" stroke-linejoin="miter"/>
<path d="M161.4 836L164.44 841.37L158.36 841.37Z" stroke="#000" stroke-width="1.3" fill="none" stroke-linejoin="miter"/>
<path d="M177.5 851.2L180.54 856.57L174.46 856.57Z" stroke="#000" stroke-width="1.3" fill="none" stroke-linejoin="miter"/>
<path d="M195 866.9L198.04 872.26L191.96 872.26Z" stroke="#000" stroke-width="1.3" fill="none" stroke-linejoin="miter"/>
<path d="M214.9 882.1L217.94 887.47L211.86 887.47Z" stroke="#000" stroke-width="1.3" fill="none" stroke-linejoin="miter"/>
<path d="M238 896.8L241.04 902.17L234.96 902.17Z" stroke="#000" stroke-width="1.3" fill="none" stroke-linejoin="miter"/>
<path d="M262.8 911.4L265.85 916.76L259.75 916.76Z" stroke="#000" stroke-width="1.3" fill="none" stroke-linejoin="miter"/>
<path d="M292.5 928.9L295.55 934.26L289.45 934.26Z" stroke="#000" stroke-width="1.3" fill="none" stroke-linejoin="miter"/>
<path d="M59.3 798.6C59.61 798.62 60.88 798.72 61.5 798.76C62.12 798.81 63.07 798.88 63.7 798.93C64.33 798.98 65.36 799.05 66 799.1C66.64 799.15 67.66 799.22 68.3 799.27C68.94 799.32 69.94 799.4 70.6 799.45C71.26 799.51 72.31 799.6 73 799.67C73.69 799.73 74.77 799.82 75.5 799.89C76.23 799.95 77.15 800.02 78.2 800.13C79.25 800.24 81.66 800.49 83 800.67C84.34 800.85 86.39 801.2 87.8 801.43C89.21 801.65 91.43 801.97 93.1 802.29C94.77 802.61 97.8 803.23 99.7 803.73C101.6 804.22 104.74 805.29 106.7 805.82C108.66 806.35 111.15 806.9 113.7 807.5C116.25 808.1 121.88 809.27 124.9 810.1C127.92 810.93 132.16 812.2 135.3 813.4C138.44 814.6 143.65 816.87 147.3 818.65C150.95 820.43 157.17 823.52 161.4 826.12C165.63 828.71 172.8 833.61 177.5 837.18C182.2 840.75 189.76 846.85 195 851.6C200.24 856.35 208.88 865.41 214.9 871.11C220.92 876.81 231.29 886.58 238 892.32C244.71 898.06 255.17 905.45 262.8 912.1C270.43 918.75 284.73 931.03 292.5 939.82C300.27 948.61 314.69 969.99 318.3 974.9" stroke="#00B050" stroke-width="2.1" fill="none" stroke-linejoin="round"/>
<path d="M59.3 795.6L61.8 798.6L59.3 801.6L56.8 798.6Z" stroke="#00B050" stroke-width="1.3" fill="#22b863"/>
<path d="M61.5 795.76L64 798.76L61.5 801.76L59 798.76Z" stroke="#00B050" stroke-width="1.3" fill="#22b863"/>
<path d="M63.7 795.93L66.2 798.93L63.7 801.93L61.2 798.93Z" stroke="#00B050" stroke-width="1.3" fill="#22b863"/>
<path d="M66 796.1L68.5 799.1L66 802.1L63.5 799.1Z" stroke="#00B050" stroke-width="1.3" fill="#22b863"/>
<path d="M68.3 796.27L70.8 799.27L68.3 802.27L65.8 799.27Z" stroke="#00B050" stroke-width="1.3" fill="#22b863"/>
<path d="M70.6 796.45L73.1 799.45L70.6 802.45L68.1 799.45Z" stroke="#00B050" stroke-width="1.3" fill="#22b863"/>
<path d="M73 796.67L75.5 799.67L73 802.67L70.5 799.67Z" stroke="#00B050" stroke-width="1.3" fill="#22b863"/>
<path d="M75.5 796.89L78 799.89L75.5 802.89L73 799.89Z" stroke="#00B050" stroke-width="1.3" fill="#22b863"/>
<path d="M78.2 797.13L80.7 800.13L78.2 803.13L75.7 800.13Z" stroke="#00B050" stroke-width="1.3" fill="#22b863"/>
<path d="M83 797.67L85.5 800.67L83 803.67L80.5 800.67Z" stroke="#00B050" stroke-width="1.3" fill="#22b863"/>
<path d="M87.8 798.43L90.3 801.43L87.8 804.43L85.3 801.43Z" stroke="#00B050" stroke-width="1.3" fill="#22b863"/>
<path d="M93.1 799.29L95.6 802.29L93.1 805.29L90.6 802.29Z" stroke="#00B050" stroke-width="1.3" fill="#22b863"/>
<path d="M99.7 800.73L102.2 803.73L99.7 806.73L97.2 803.73Z" stroke="#00B050" stroke-width="1.3" fill="#22b863"/>
<path d="M106.7 802.82L109.2 805.82L106.7 808.82L104.2 805.82Z" stroke="#00B050" stroke-width="1.3" fill="#22b863"/>
<path d="M113.7 804.5L116.2 807.5L113.7 810.5L111.2 807.5Z" stroke="#00B050" stroke-width="1.3" fill="#22b863"/>
<path d="M124.9 807.1L127.4 810.1L124.9 813.1L122.4 810.1Z" stroke="#00B050" stroke-width="1.3" fill="#22b863"/>
<path d="M135.3 810.4L137.8 813.4L135.3 816.4L132.8 813.4Z" stroke="#00B050" stroke-width="1.3" fill="#22b863"/>
<path d="M147.3 815.65L149.8 818.65L147.3 821.65L144.8 818.65Z" stroke="#00B050" stroke-width="1.3" fill="#22b863"/>
<path d="M161.4 823.12L163.9 826.12L161.4 829.12L158.9 826.12Z" stroke="#00B050" stroke-width="1.3" fill="#22b863"/>
<path d="M177.5 834.18L180 837.18L177.5 840.18L175 837.18Z" stroke="#00B050" stroke-width="1.3" fill="#22b863"/>
<path d="M195 848.6L197.5 851.6L195 854.6L192.5 851.6Z" stroke="#00B050" stroke-width="1.3" fill="#22b863"/>
<path d="M214.9 868.11L217.4 871.11L214.9 874.11L212.4 871.11Z" stroke="#00B050" stroke-width="1.3" fill="#22b863"/>
<path d="M238 889.32L240.5 892.32L238 895.32L235.5 892.32Z" stroke="#00B050" stroke-width="1.3" fill="#22b863"/>
<path d="M262.8 909.1L265.3 912.1L262.8 915.1L260.3 912.1Z" stroke="#00B050" stroke-width="1.3" fill="#22b863"/>
<path d="M292.5 936.82L295 939.82L292.5 942.82L290 939.82Z" stroke="#00B050" stroke-width="1.3" fill="#22b863"/>
<circle cx="65.4" cy="788.5" r="3.5" fill="#FF0000"/>
<circle cx="79.1" cy="790.1" r="3.5" fill="#FF0000"/>
<circle cx="92.4" cy="795.7" r="3.5" fill="#FF0000"/>
<circle cx="106.1" cy="801.8" r="3.5" fill="#FF0000"/>
<circle cx="119.6" cy="806.9" r="3.5" fill="#FF0000"/>
<circle cx="132.1" cy="814.2" r="3.5" fill="#FF0000"/>
<circle cx="145.4" cy="822.7" r="3.5" fill="#FF0000"/>
<circle cx="159.3" cy="830.5" r="3.5" fill="#FF0000"/>
<circle cx="172.4" cy="840.2" r="3.5" fill="#FF0000"/>
<circle cx="186.1" cy="847.4" r="3.5" fill="#FF0000"/>
<circle cx="198.4" cy="855.4" r="3.5" fill="#FF0000"/>
<circle cx="212.3" cy="866.8" r="3.5" fill="#FF0000"/>
<circle cx="225.5" cy="876.5" r="3.5" fill="#FF0000"/>
<circle cx="238.7" cy="886.7" r="3.5" fill="#FF0000"/>
<circle cx="252.6" cy="899.2" r="3.5" fill="#FF0000"/>
<circle cx="265" cy="913.6" r="3.5" fill="#FF0000"/>
<circle cx="278.2" cy="933.3" r="3.5" fill="#FF0000"/>
<circle cx="292" cy="953.7" r="3.5" fill="#FF0000"/>
<circle cx="305.6" cy="969.8" r="3.5" fill="#FF0000"/>
<circle cx="319" cy="972.3" r="3.5" fill="#FF0000"/>
<path d="M410 808.9C410.31 808.92 411.59 808.98 412.21 809.01C412.83 809.04 413.79 809.1 414.42 809.14C415.05 809.17 416.08 809.23 416.73 809.27C417.38 809.3 418.39 809.36 419.04 809.4C419.68 809.44 420.69 809.49 421.35 809.53C422.01 809.57 423.07 809.61 423.76 809.67C424.45 809.73 425.54 809.86 426.27 809.95C427 810.03 427.93 810.15 428.98 810.29C430.03 810.42 432.45 810.71 433.8 810.89C435.15 811.07 437.2 811.35 438.62 811.58C440.04 811.82 442.27 812.26 443.94 812.57C445.62 812.89 448.66 813.45 450.57 813.81C452.48 814.18 455.63 814.79 457.6 815.18C459.57 815.56 462.07 815.88 464.63 816.57C467.19 817.27 472.84 819.15 475.88 820.16C478.92 821.18 483.17 822.77 486.32 823.83C489.47 824.9 494.7 826.2 498.37 827.77C502.04 829.34 508.29 832.54 512.53 835.05C516.78 837.57 523.98 842.24 528.7 845.74C533.43 849.23 541.02 855.33 546.28 860C551.53 864.67 560.21 873.55 566.26 879.09C572.31 884.64 582.72 893.39 589.46 899.63C596.19 905.87 606.7 916.47 614.36 923.67C622.03 930.88 636.39 942.3 644.19 951.07C651.99 959.85 666.47 981.39 670.1 986.33" stroke="#7030A0" stroke-width="2.1" fill="none" stroke-linejoin="round"/>
<path d="M410 805.8L413.25 811.53L406.75 811.53Z" stroke="#7030A0" stroke-width="1.3" fill="none" stroke-linejoin="miter"/>
<path d="M412.21 805.91L415.46 811.64L408.95 811.64Z" stroke="#7030A0" stroke-width="1.3" fill="none" stroke-linejoin="miter"/>
<path d="M414.42 806.04L417.67 811.77L411.16 811.77Z" stroke="#7030A0" stroke-width="1.3" fill="none" stroke-linejoin="miter"/>
<path d="M416.73 806.17L419.98 811.9L413.47 811.9Z" stroke="#7030A0" stroke-width="1.3" fill="none" stroke-linejoin="miter"/>
<path d="M419.04 806.3L422.29 812.03L415.78 812.03Z" stroke="#7030A0" stroke-width="1.3" fill="none" stroke-linejoin="miter"/>
<path d="M421.35 806.43L424.6 812.17L418.09 812.17Z" stroke="#7030A0" stroke-width="1.3" fill="none" stroke-linejoin="miter"/>
<path d="M423.76 806.57L427.01 812.3L420.5 812.3Z" stroke="#7030A0" stroke-width="1.3" fill="none" stroke-linejoin="miter"/>
<path d="M426.27 806.85L429.52 812.58L423.01 812.58Z" stroke="#7030A0" stroke-width="1.3" fill="none" stroke-linejoin="miter"/>
<path d="M428.98 807.19L432.24 812.92L425.73 812.92Z" stroke="#7030A0" stroke-width="1.3" fill="none" stroke-linejoin="miter"/>
<path d="M433.8 807.79L437.06 813.52L430.55 813.52Z" stroke="#7030A0" stroke-width="1.3" fill="none" stroke-linejoin="miter"/>
<path d="M438.62 808.48L441.88 814.22L435.37 814.22Z" stroke="#7030A0" stroke-width="1.3" fill="none" stroke-linejoin="miter"/>
<path d="M443.94 809.47L447.2 815.21L440.69 815.21Z" stroke="#7030A0" stroke-width="1.3" fill="none" stroke-linejoin="miter"/>
<path d="M450.57 810.71L453.83 816.45L447.32 816.45Z" stroke="#7030A0" stroke-width="1.3" fill="none" stroke-linejoin="miter"/>
<path d="M457.6 812.08L460.86 817.81L454.35 817.81Z" stroke="#7030A0" stroke-width="1.3" fill="none" stroke-linejoin="miter"/>
<path d="M464.63 813.47L467.89 819.21L461.38 819.21Z" stroke="#7030A0" stroke-width="1.3" fill="none" stroke-linejoin="miter"/>
<path d="M475.88 817.06L479.13 822.8L472.62 822.8Z" stroke="#7030A0" stroke-width="1.3" fill="none" stroke-linejoin="miter"/>
<path d="M486.32 820.73L489.58 826.47L483.07 826.47Z" stroke="#7030A0" stroke-width="1.3" fill="none" stroke-linejoin="miter"/>
<path d="M498.37 824.67L501.63 830.41L495.12 830.41Z" stroke="#7030A0" stroke-width="1.3" fill="none" stroke-linejoin="miter"/>
<path d="M512.53 831.95L515.79 837.69L509.28 837.69Z" stroke="#7030A0" stroke-width="1.3" fill="none" stroke-linejoin="miter"/>
<path d="M528.7 842.64L531.96 848.37L525.45 848.37Z" stroke="#7030A0" stroke-width="1.3" fill="none" stroke-linejoin="miter"/>
<path d="M546.28 856.9L549.53 862.63L543.02 862.63Z" stroke="#7030A0" stroke-width="1.3" fill="none" stroke-linejoin="miter"/>
<path d="M566.26 875.99L569.52 881.73L563.01 881.73Z" stroke="#7030A0" stroke-width="1.3" fill="none" stroke-linejoin="miter"/>
<path d="M589.46 896.53L592.71 902.26L586.2 902.26Z" stroke="#7030A0" stroke-width="1.3" fill="none" stroke-linejoin="miter"/>
<path d="M614.36 920.57L617.62 926.31L611.11 926.31Z" stroke="#7030A0" stroke-width="1.3" fill="none" stroke-linejoin="miter"/>
<path d="M644.19 947.97L647.44 953.71L640.93 953.71Z" stroke="#7030A0" stroke-width="1.3" fill="none" stroke-linejoin="miter"/>
<path d="M410 800.6C410.31 800.59 411.59 800.54 412.21 800.51C412.83 800.48 413.79 800.44 414.42 800.41C415.05 800.38 416.08 800.33 416.73 800.3C417.38 800.27 418.39 800.21 419.04 800.19C419.68 800.17 420.69 800.11 421.35 800.13C422.01 800.16 423.07 800.31 423.76 800.37C424.45 800.44 425.54 800.55 426.27 800.62C427 800.7 427.93 800.79 428.98 800.89C430.03 801 432.45 801.2 433.8 801.37C435.15 801.54 437.2 801.81 438.62 802.12C440.04 802.43 442.27 803.13 443.94 803.59C445.62 804.05 448.66 804.81 450.57 805.42C452.48 806.03 455.63 807.22 457.6 807.95C459.57 808.68 462.07 809.56 464.63 810.6C467.19 811.64 472.84 813.93 475.88 815.4C478.92 816.87 483.17 819.39 486.32 821.09C489.47 822.78 494.7 825.37 498.37 827.5C502.04 829.62 508.29 832.51 512.53 836.23C516.78 839.95 523.98 849.42 528.7 854.05C533.43 858.67 541.02 864.54 546.28 869.26C551.53 873.98 560.21 883.07 566.26 887.76C572.31 892.46 582.72 898.9 589.46 902.78C596.19 906.67 606.7 910.89 614.36 915.51C622.03 920.14 636.39 924.7 644.19 935.8C651.99 946.89 666.47 986.49 670.1 994.74" stroke="#002060" stroke-width="2.1" fill="none" stroke-linejoin="round"/>
<path d="M407.1 797.7L412.9 803.5M407.1 803.5L412.9 797.7M410 797.12L410 804.08" stroke="#002060" stroke-width="1.7" fill="none"/>
<path d="M409.31 797.61L415.11 803.41M409.31 803.41L415.11 797.61M412.21 797.03L412.21 803.99" stroke="#002060" stroke-width="1.7" fill="none"/>
<path d="M411.52 797.51L417.32 803.31M411.52 803.31L417.32 797.51M414.42 796.93L414.42 803.89" stroke="#002060" stroke-width="1.7" fill="none"/>
<path d="M413.83 797.4L419.63 803.2M413.83 803.2L419.63 797.4M416.73 796.82L416.73 803.78" stroke="#002060" stroke-width="1.7" fill="none"/>
<path d="M416.14 797.29L421.94 803.09M416.14 803.09L421.94 797.29M419.04 796.71L419.04 803.67" stroke="#002060" stroke-width="1.7" fill="none"/>
<path d="M418.45 797.23L424.25 803.03M418.45 803.03L424.25 797.23M421.35 796.65L421.35 803.61" stroke="#002060" stroke-width="1.7" fill="none"/>
<path d="M420.86 797.47L426.66 803.27M420.86 803.27L426.66 797.47M423.76 796.89L423.76 803.85" stroke="#002060" stroke-width="1.7" fill="none"/>
<path d="M423.37 797.72L429.17 803.52M423.37 803.52L429.17 797.72M426.27 797.14L426.27 804.1" stroke="#002060" stroke-width="1.7" fill="none"/>
<path d="M426.08 797.99L431.88 803.79M426.08 803.79L431.88 797.99M428.98 797.41L428.98 804.37" stroke="#002060" stroke-width="1.7" fill="none"/>
<path d="M430.9 798.47L436.7 804.27M430.9 804.27L436.7 798.47M433.8 797.89L433.8 804.85" stroke="#002060" stroke-width="1.7" fill="none"/>
<path d="M435.72 799.22L441.52 805.02M435.72 805.02L441.52 799.22M438.62 798.64L438.62 805.6" stroke="#002060" stroke-width="1.7" fill="none"/>
<path d="M441.04 800.69L446.84 806.49M441.04 806.49L446.84 800.69M443.94 800.11L443.94 807.07" stroke="#002060" stroke-width="1.7" fill="none"/>
<path d="M447.67 802.52L453.47 808.32M447.67 808.32L453.47 802.52M450.57 801.94L450.57 808.9" stroke="#002060" stroke-width="1.7" fill="none"/>
<path d="M454.7 805.05L460.5 810.85M454.7 810.85L460.5 805.05M457.6 804.47L457.6 811.43" stroke="#002060" stroke-width="1.7" fill="none"/>
<path d="M461.73 807.7L467.53 813.5M461.73 813.5L467.53 807.7M464.63 807.12L464.63 814.08" stroke="#002060" stroke-width="1.7" fill="none"/>
<path d="M472.98 812.5L478.78 818.3M472.98 818.3L478.78 812.5M475.88 811.92L475.88 818.88" stroke="#002060" stroke-width="1.7" fill="none"/>
<path d="M483.42 818.19L489.22 823.99M483.42 823.99L489.22 818.19M486.32 817.61L486.32 824.57" stroke="#002060" stroke-width="1.7" fill="none"/>
<path d="M495.47 824.6L501.27 830.4M495.47 830.4L501.27 824.6M498.37 824.02L498.37 830.98" stroke="#002060" stroke-width="1.7" fill="none"/>
<path d="M509.63 833.33L515.43 839.13M509.63 839.13L515.43 833.33M512.53 832.75L512.53 839.71" stroke="#002060" stroke-width="1.7" fill="none"/>
<path d="M525.8 851.15L531.6 856.95M525.8 856.95L531.6 851.15M528.7 850.57L528.7 857.53" stroke="#002060" stroke-width="1.7" fill="none"/>
<path d="M543.38 866.36L549.18 872.16M543.38 872.16L549.18 866.36M546.28 865.78L546.28 872.74" stroke="#002060" stroke-width="1.7" fill="none"/>
<path d="M563.36 884.86L569.16 890.66M563.36 890.66L569.16 884.86M566.26 884.28L566.26 891.24" stroke="#002060" stroke-width="1.7" fill="none"/>
<path d="M586.56 899.88L592.36 905.68M586.56 905.68L592.36 899.88M589.46 899.3L589.46 906.26" stroke="#002060" stroke-width="1.7" fill="none"/>
<path d="M611.46 912.61L617.26 918.41M611.46 918.41L617.26 912.61M614.36 912.03L614.36 918.99" stroke="#002060" stroke-width="1.7" fill="none"/>
<path d="M641.29 932.9L647.09 938.7M641.29 938.7L647.09 932.9M644.19 932.32L644.19 939.28" stroke="#002060" stroke-width="1.7" fill="none"/>
<path d="M410 846.3C410.31 846.3 411.59 846.3 412.21 846.3C412.83 846.3 413.79 846.3 414.42 846.3C415.05 846.3 416.08 846.3 416.73 846.3C417.38 846.3 418.39 846.3 419.04 846.3C419.68 846.3 420.69 846.3 421.35 846.3C422.01 846.3 423.07 846.3 423.76 846.3C424.45 846.3 425.54 846.3 426.27 846.3C427 846.3 427.93 846.25 428.98 846.3C430.03 846.35 432.45 846.58 433.8 846.69C435.15 846.8 437.2 846.96 438.62 847.09C440.04 847.23 442.27 847.47 443.94 847.66C445.62 847.84 448.66 848.11 450.57 848.41C452.48 848.72 455.63 849.52 457.6 849.82C459.57 850.12 462.07 850.21 464.63 850.56C467.19 850.91 472.84 851.83 475.88 852.33C478.92 852.83 483.17 853.56 486.32 854.1C489.47 854.64 494.7 855.53 498.37 856.21C502.04 856.89 508.29 857.62 512.53 858.96C516.78 860.29 523.98 863.8 528.7 865.76C533.43 867.72 541.02 870.57 546.28 872.95C551.53 875.33 560.21 879.37 566.26 882.76C572.31 886.16 582.72 893.25 589.46 897.19C596.19 901.12 606.7 905.67 614.36 910.88C622.03 916.1 636.39 926.42 644.19 934.42C651.99 942.43 666.47 963.33 670.1 968.04" stroke="#FFC000" stroke-width="2.1" fill="none" stroke-linejoin="round"/>
<path d="M410 843.2L412.6 846.3L410 849.4L407.4 846.3Z" stroke="#FFC000" stroke-width="1.3" fill="#ffcf40"/>
<path d="M412.21 843.2L414.81 846.3L412.21 849.4L409.61 846.3Z" stroke="#FFC000" stroke-width="1.3" fill="#ffcf40"/>
<path d="M414.42 843.2L417.02 846.3L414.42 849.4L411.82 846.3Z" stroke="#FFC000" stroke-width="1.3" fill="#ffcf40"/>
<path d="M416.73 843.2L419.33 846.3L416.73 849.4L414.13 846.3Z" stroke="#FFC000" stroke-width="1.3" fill="#ffcf40"/>
<path d="M419.04 843.2L421.64 846.3L419.04 849.4L416.44 846.3Z" stroke="#FFC000" stroke-width="1.3" fill="#ffcf40"/>
<path d="M421.35 843.2L423.95 846.3L421.35 849.4L418.75 846.3Z" stroke="#FFC000" stroke-width="1.3" fill="#ffcf40"/>
<path d="M423.76 843.2L426.36 846.3L423.76 849.4L421.16 846.3Z" stroke="#FFC000" stroke-width="1.3" fill="#ffcf40"/>
<path d="M426.27 843.2L428.87 846.3L426.27 849.4L423.67 846.3Z" stroke="#FFC000" stroke-width="1.3" fill="#ffcf40"/>
<path d="M428.98 843.2L431.58 846.3L428.98 849.4L426.38 846.3Z" stroke="#FFC000" stroke-width="1.3" fill="#ffcf40"/>
<path d="M433.8 843.59L436.4 846.69L433.8 849.79L431.2 846.69Z" stroke="#FFC000" stroke-width="1.3" fill="#ffcf40"/>
<path d="M438.62 843.99L441.22 847.09L438.62 850.19L436.02 847.09Z" stroke="#FFC000" stroke-width="1.3" fill="#ffcf40"/>
<path d="M443.94 844.56L446.54 847.66L443.94 850.76L441.34 847.66Z" stroke="#FFC000" stroke-width="1.3" fill="#ffcf40"/>
<path d="M450.57 845.31L453.17 848.41L450.57 851.51L447.97 848.41Z" stroke="#FFC000" stroke-width="1.3" fill="#ffcf40"/>
<path d="M457.6 846.72L460.2 849.82L457.6 852.92L455 849.82Z" stroke="#FFC000" stroke-width="1.3" fill="#ffcf40"/>
<path d="M464.63 847.46L467.23 850.56L464.63 853.66L462.03 850.56Z" stroke="#FFC000" stroke-width="1.3" fill="#ffcf40"/>
<path d="M475.88 849.23L478.48 852.33L475.88 855.43L473.28 852.33Z" stroke="#FFC000" stroke-width="1.3" fill="#ffcf40"/>
<path d="M486.32 851L488.92 854.1L486.32 857.2L483.72 854.1Z" stroke="#FFC000" stroke-width="1.3" fill="#ffcf40"/>
<path d="M498.37 853.11L500.97 856.21L498.37 859.31L495.77 856.21Z" stroke="#FFC000" stroke-width="1.3" fill="#ffcf40"/>
<path d="M512.53 855.86L515.13 858.96L512.53 862.06L509.93 858.96Z" stroke="#FFC000" stroke-width="1.3" fill="#ffcf40"/>
<path d="M528.7 862.66L531.3 865.76L528.7 868.86L526.1 865.76Z" stroke="#FFC000" stroke-width="1.3" fill="#ffcf40"/>
<path d="M546.28 869.85L548.88 872.95L546.28 876.05L543.68 872.95Z" stroke="#FFC000" stroke-width="1.3" fill="#ffcf40"/>
<path d="M566.26 879.66L568.86 882.76L566.26 885.86L563.66 882.76Z" stroke="#FFC000" stroke-width="1.3" fill="#ffcf40"/>
<path d="M589.46 894.09L592.06 897.19L589.46 900.29L586.86 897.19Z" stroke="#FFC000" stroke-width="1.3" fill="#ffcf40"/>
<path d="M614.36 907.78L616.96 910.88L614.36 913.98L611.76 910.88Z" stroke="#FFC000" stroke-width="1.3" fill="#ffcf40"/>
<path d="M644.19 931.32L646.79 934.42L644.19 937.52L641.59 934.42Z" stroke="#FFC000" stroke-width="1.3" fill="#ffcf40"/>
<circle cx="416.13" cy="796.93" r="3.5" fill="#FF0000"/>
<circle cx="429.88" cy="798.53" r="3.5" fill="#FF0000"/>
<circle cx="443.24" cy="804.14" r="3.5" fill="#FF0000"/>
<circle cx="457" cy="810.24" r="3.5" fill="#FF0000"/>
<circle cx="470.56" cy="815.35" r="3.5" fill="#FF0000"/>
<circle cx="483.11" cy="822.65" r="3.5" fill="#FF0000"/>
<circle cx="496.47" cy="831.16" r="3.5" fill="#FF0000"/>
<circle cx="510.42" cy="838.96" r="3.5" fill="#FF0000"/>
<circle cx="523.58" cy="848.67" r="3.5" fill="#FF0000"/>
<circle cx="537.34" cy="855.88" r="3.5" fill="#FF0000"/>
<circle cx="549.69" cy="863.88" r="3.5" fill="#FF0000"/>
<circle cx="563.65" cy="875.29" r="3.5" fill="#FF0000"/>
<circle cx="576.91" cy="885" r="3.5" fill="#FF0000"/>
<circle cx="590.16" cy="895.21" r="3.5" fill="#FF0000"/>
<circle cx="604.12" cy="907.72" r="3.5" fill="#FF0000"/>
<circle cx="616.57" cy="922.13" r="3.5" fill="#FF0000"/>
<circle cx="629.83" cy="941.84" r="3.5" fill="#FF0000"/>
<circle cx="643.69" cy="962.26" r="3.5" fill="#FF0000"/>
<circle cx="657.34" cy="978.37" r="3.5" fill="#FF0000"/>
<circle cx="670.8" cy="980.87" r="3.5" fill="#FF0000"/>
<circle cx="86.4" cy="50.6" r="3.5" fill="#FF0000"/>
<text x="96.11" y="54" font-size="11.5" textLength="84.18" lengthAdjust="spacingAndGlyphs" fill="#000" >Experiment (039)</text>
<path d="M79.1 64.6H93.7" stroke="#00B0F0" stroke-width="1.9"/>
<path d="M83.8 62L89 67.2M83.8 67.2L89 62M86.4 61.48L86.4 67.72" stroke="#00B0F0" stroke-width="1.5" fill="none"/>
<text x="95.92" y="68" font-size="11.5" textLength="77.38" lengthAdjust="spacingAndGlyphs" fill="#000" >Ishii-zuber 1979</text>
<path d="M79.1 78.6H93.7" stroke="#000" stroke-width="1.9"/>
<path d="M86.4 75.7L89.45 81.06L83.36 81.06Z" stroke="#000" stroke-width="1.3" fill="none" stroke-linejoin="miter"/>
<text x="95.7" y="82" font-size="11.5" textLength="71.07" lengthAdjust="spacingAndGlyphs" fill="#000" >Simonnet 2007</text>
<path d="M79.1 92.5H93.7" stroke="#00B050" stroke-width="1.9"/>
<path d="M86.4 89.5L88.9 92.5L86.4 95.5L83.9 92.5Z" stroke="#00B050" stroke-width="1.3" fill="#22b863"/>
<text x="96.12" y="95.9" font-size="11.5" textLength="76.86" lengthAdjust="spacingAndGlyphs" fill="#000" >Tomiyama 1998</text>
<circle cx="438.85" cy="48.4" r="3.5" fill="#FF0000"/>
<text x="448.21" y="51.8" font-size="11.5" textLength="83.98" lengthAdjust="spacingAndGlyphs" fill="#000" >Experiment (039)</text>
<path d="M431.4 62.6H446.3" stroke="#7030A0" stroke-width="1.9"/>
<path d="M438.85 60L441.58 64.81L436.12 64.81Z" stroke="#7030A0" stroke-width="1.3" fill="#7030A0" stroke-linejoin="miter"/>
<text x="447.85" y="66" font-size="11.5" textLength="54.68" lengthAdjust="spacingAndGlyphs" fill="#000" >Grace 1976</text>
<path d="M431.4 76.9H446.3" stroke="#002060" stroke-width="1.9"/>
<path d="M435.95 74L441.75 79.8M435.95 79.8L441.75 74M438.85 73.42L438.85 80.38" stroke="#002060" stroke-width="1.7" fill="none"/>
<text x="447.8" y="80.3" font-size="11.5" textLength="86.42" lengthAdjust="spacingAndGlyphs" fill="#000" >Schiller-Nau 1935</text>
<path d="M431.4 91.2H446.3" stroke="#FFC000" stroke-width="1.9"/>
<path d="M438.85 88.1L441.45 91.2L438.85 94.3L436.25 91.2Z" stroke="#FFC000" stroke-width="1.3" fill="#ffcf40"/>
<text x="448.21" y="94.6" font-size="11.5" textLength="63.6" lengthAdjust="spacingAndGlyphs" fill="#000" >Behzadi 2004</text>
<circle cx="84.45" cy="509.2" r="3.5" fill="#FF0000"/>
<text x="93.51" y="512.6" font-size="11.5" textLength="83.78" lengthAdjust="spacingAndGlyphs" fill="#000" >Experiment (083)</text>
<path d="M77 526H91.9" stroke="#00B0F0" stroke-width="1.9"/>
<path d="M81.85 523.4L87.05 528.6M81.85 528.6L87.05 523.4M84.45 522.88L84.45 529.12" stroke="#00B0F0" stroke-width="1.5" fill="none"/>
<text x="93.32" y="529.4" font-size="11.5" textLength="80.39" lengthAdjust="spacingAndGlyphs" fill="#000" >Ishii-Zuber 1979</text>
<path d="M77 543.6H91.9" stroke="#000" stroke-width="1.9"/>
<path d="M84.45 540.7L87.5 546.07L81.41 546.07Z" stroke="#000" stroke-width="1.3" fill="none" stroke-linejoin="miter"/>
<text x="93.1" y="547" font-size="11.5" textLength="70.87" lengthAdjust="spacingAndGlyphs" fill="#000" >Simonnet 2007</text>
<path d="M77 560.6H91.9" stroke="#00B050" stroke-width="1.9"/>
<path d="M84.45 557.6L86.95 560.6L84.45 563.6L81.95 560.6Z" stroke="#00B050" stroke-width="1.3" fill="#22b863"/>
<text x="93.52" y="564" font-size="11.5" textLength="77.46" lengthAdjust="spacingAndGlyphs" fill="#000" >Tomiyama 1998</text>
<circle cx="428.55" cy="509.5" r="3.5" fill="#FF0000"/>
<text x="437.91" y="512.9" font-size="11.5" textLength="84.18" lengthAdjust="spacingAndGlyphs" fill="#000" >Experiment (083)</text>
<path d="M421.1 525.2H436" stroke="#7030A0" stroke-width="1.9"/>
<path d="M428.55 522.1L431.81 527.84L425.3 527.84Z" stroke="#7030A0" stroke-width="1.3" fill="none" stroke-linejoin="miter"/>
<text x="437.55" y="528.6" font-size="11.5" textLength="54.28" lengthAdjust="spacingAndGlyphs" fill="#000" >Grace 1976</text>
<path d="M421.1 540.3H436" stroke="#002060" stroke-width="1.9"/>
<path d="M425.65 537.4L431.45 543.2M425.65 543.2L431.45 537.4M428.55 536.82L428.55 543.78" stroke="#002060" stroke-width="1.7" fill="none"/>
<text x="437.5" y="543.7" font-size="11.5" textLength="86.62" lengthAdjust="spacingAndGlyphs" fill="#000" >Schiller-Nau 1935</text>
<path d="M421.1 555.6H436" stroke="#FFC000" stroke-width="1.9"/>
<path d="M428.55 552.5L431.15 555.6L428.55 558.7L425.95 555.6Z" stroke="#FFC000" stroke-width="1.3" fill="#ffcf40"/>
<text x="437.91" y="559" font-size="11.5" textLength="63.5" lengthAdjust="spacingAndGlyphs" fill="#000" >Behzadi 2004</text>
<circle cx="80.15" cy="877.8" r="3.5" fill="#FF0000"/>
<text x="89.11" y="881.2" font-size="11.5" textLength="78.49" lengthAdjust="spacingAndGlyphs" fill="#000" >Eperiment (118)</text>
<path d="M72.6 894.5H87.7" stroke="#00B0F0" stroke-width="1.9"/>
<path d="M77.55 891.9L82.75 897.1M77.55 897.1L82.75 891.9M80.15 891.38L80.15 897.62" stroke="#00B0F0" stroke-width="1.5" fill="none"/>
<text x="88.91" y="897.9" font-size="11.5" textLength="80.69" lengthAdjust="spacingAndGlyphs" fill="#000" >Ishii-Zuber 1979</text>
<path d="M72.6 910.7H87.7" stroke="#000" stroke-width="1.9"/>
<path d="M80.15 907.8L83.2 913.17L77.11 913.17Z" stroke="#000" stroke-width="1.3" fill="none" stroke-linejoin="miter"/>
<text x="88.7" y="914.1" font-size="11.5" textLength="71.78" lengthAdjust="spacingAndGlyphs" fill="#000" >Simonnet 2007</text>
<path d="M72.6 927.4H87.7" stroke="#00B050" stroke-width="1.9"/>
<path d="M80.15 924.4L82.65 927.4L80.15 930.4L77.65 927.4Z" stroke="#00B050" stroke-width="1.3" fill="#22b863"/>
<text x="89.12" y="930.8" font-size="11.5" textLength="77.86" lengthAdjust="spacingAndGlyphs" fill="#000" >Tomiyama 1998</text>
<circle cx="422" cy="879.1" r="3.5" fill="#FF0000"/>
<text x="431.11" y="882.5" font-size="11.5" textLength="78.69" lengthAdjust="spacingAndGlyphs" fill="#000" >Eperiment (118)</text>
<path d="M414.4 894.4H429.6" stroke="#7030A0" stroke-width="1.9"/>
<path d="M422 891.3L425.25 897.03L418.75 897.03Z" stroke="#7030A0" stroke-width="1.3" fill="none" stroke-linejoin="miter"/>
<text x="430.75" y="897.8" font-size="11.5" textLength="57.76" lengthAdjust="spacingAndGlyphs" fill="#000" >Grace 1976.</text>
<path d="M414.4 909.8H429.6" stroke="#002060" stroke-width="1.9"/>
<path d="M419.1 906.9L424.9 912.7M419.1 912.7L424.9 906.9M422 906.32L422 913.28" stroke="#002060" stroke-width="1.7" fill="none"/>
<text x="430.7" y="913.2" font-size="11.5" textLength="86.62" lengthAdjust="spacingAndGlyphs" fill="#000" >Schiller-Nau 1935</text>
<path d="M414.4 924.4H429.6" stroke="#FFC000" stroke-width="1.9"/>
<path d="M422 921.3L424.6 924.4L422 927.5L419.4 924.4Z" stroke="#FFC000" stroke-width="1.3" fill="#ffcf40"/>
<text x="431.11" y="927.8" font-size="11.5" textLength="63" lengthAdjust="spacingAndGlyphs" fill="#000" >Behzadi 2004</text>
<path d="M268.32 42.8V305.5" stroke="#000" stroke-width="1.7" stroke-dasharray="1.7 1.71" fill="none"/>
<path d="M619.3 40.65V303.65" stroke="#000" stroke-width="1.7" stroke-dasharray="1.7 1.71" fill="none"/>
<path d="M267.54 393.7V655.2" stroke="#000" stroke-width="1.7" stroke-dasharray="1.7 1.71" fill="none"/>
<path d="M618.18 396.3V657.7" stroke="#000" stroke-width="1.7" stroke-dasharray="1.7 1.71" fill="none"/>
<path d="M266.74 745.1V1007.9" stroke="#000" stroke-width="1.7" stroke-dasharray="1.7 1.71" fill="none"/>
<path d="M618.32 753.5V1016.5" stroke="#000" stroke-width="1.7" stroke-dasharray="1.7 1.71" fill="none"/>
</svg>
</body></html>
